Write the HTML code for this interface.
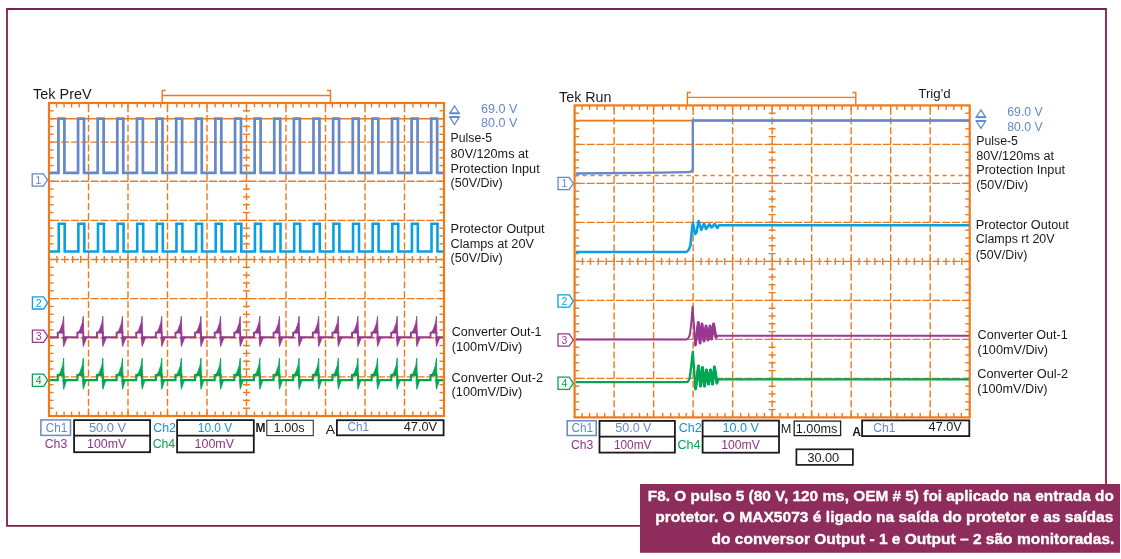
<!DOCTYPE html>
<html><head><meta charset="utf-8"><title>F8 - Pulse 5 oscilloscope captures</title>
<style>
html,body{margin:0;padding:0;background:#fff;}
body{width:1121px;height:559px;overflow:hidden;}
svg{display:block;font-family:'Liberation Sans', Arial, Helvetica, sans-serif;}
</style></head><body>
<svg width="1121" height="559" viewBox="0 0 1121 559">
<rect width="1121" height="559" fill="#fff"/>
<path d="M640,525.9 H7 V9 H1106 V484" stroke="#7D1F50" stroke-width="1.8" fill="none" stroke-linejoin="miter"/>
<rect x="640" y="484" width="480" height="68.8" stroke="none" stroke-width="0" fill="#8E2C5C"/>
<g stroke="#fff" stroke-width="0.35">
<text x="647.8" y="500.8" font-size="15.4" fill="#ffffff" textLength="466" lengthAdjust="spacingAndGlyphs" font-weight="bold">F8. O pulso 5 (80 V, 120 ms, OEM # 5) foi aplicado na entrada do</text>
<text x="655.2" y="522.3" font-size="15.4" fill="#ffffff" textLength="458.2" lengthAdjust="spacingAndGlyphs" font-weight="bold">protetor. O MAX5073 é ligado na saída do protetor e as saídas</text>
<text x="711.6" y="544" font-size="15.4" fill="#ffffff" textLength="402.8" lengthAdjust="spacingAndGlyphs" font-weight="bold">do conversor Output - 1 e Output – 2 são monitoradas.</text>
</g>
<text x="32.9" y="98.6" font-size="14.5" fill="#1a1a1a" textLength="58.8" lengthAdjust="spacingAndGlyphs">Tek PreV</text>
<path d="M165.7,90.5 H162.2 V103 M162.2,95.5 V95.5 M162.2,95.5 H330.5 V103" stroke="#EF7A1C" stroke-width="1.4" fill="none" stroke-linejoin="miter"/>
<path d="M327,90.5 H330.5 V95.5" stroke="#EF7A1C" stroke-width="1.4" fill="none" stroke-linejoin="miter"/>
<line x1="88.5" y1="103" x2="88.5" y2="416" stroke="#EF7A1C" stroke-width="1.4" stroke-dasharray="7.000,2.781" stroke-dashoffset="7.48"/>
<line x1="128" y1="103" x2="128" y2="416" stroke="#EF7A1C" stroke-width="1.4" stroke-dasharray="7.000,2.781" stroke-dashoffset="7.48"/>
<line x1="167.5" y1="103" x2="167.5" y2="416" stroke="#EF7A1C" stroke-width="1.4" stroke-dasharray="7.000,2.781" stroke-dashoffset="7.48"/>
<line x1="207" y1="103" x2="207" y2="416" stroke="#EF7A1C" stroke-width="1.4" stroke-dasharray="7.000,2.781" stroke-dashoffset="7.48"/>
<line x1="246.5" y1="103" x2="246.5" y2="416" stroke="#EF7A1C" stroke-width="1.4" stroke-dasharray="7.000,2.781" stroke-dashoffset="7.48"/>
<line x1="286" y1="103" x2="286" y2="416" stroke="#EF7A1C" stroke-width="1.4" stroke-dasharray="7.000,2.781" stroke-dashoffset="7.48"/>
<line x1="325.5" y1="103" x2="325.5" y2="416" stroke="#EF7A1C" stroke-width="1.4" stroke-dasharray="7.000,2.781" stroke-dashoffset="7.48"/>
<line x1="365" y1="103" x2="365" y2="416" stroke="#EF7A1C" stroke-width="1.4" stroke-dasharray="7.000,2.781" stroke-dashoffset="7.48"/>
<line x1="404.5" y1="103" x2="404.5" y2="416" stroke="#EF7A1C" stroke-width="1.4" stroke-dasharray="7.000,2.781" stroke-dashoffset="7.48"/>
<line x1="49" y1="142.12" x2="444" y2="142.12" stroke="#EF7A1C" stroke-width="1.4" stroke-dasharray="8.100,1.775" stroke-dashoffset="7.78"/>
<line x1="49" y1="181.25" x2="444" y2="181.25" stroke="#EF7A1C" stroke-width="1.4" stroke-dasharray="8.100,1.775" stroke-dashoffset="7.78"/>
<line x1="49" y1="220.38" x2="444" y2="220.38" stroke="#EF7A1C" stroke-width="1.4" stroke-dasharray="8.100,1.775" stroke-dashoffset="7.78"/>
<line x1="49" y1="259.5" x2="444" y2="259.5" stroke="#EF7A1C" stroke-width="1.4" stroke-dasharray="8.100,1.775" stroke-dashoffset="7.78"/>
<line x1="49" y1="298.62" x2="444" y2="298.62" stroke="#EF7A1C" stroke-width="1.4" stroke-dasharray="8.100,1.775" stroke-dashoffset="7.78"/>
<line x1="49" y1="337.75" x2="444" y2="337.75" stroke="#EF7A1C" stroke-width="1.4" stroke-dasharray="8.100,1.775" stroke-dashoffset="7.78"/>
<line x1="49" y1="376.88" x2="444" y2="376.88" stroke="#EF7A1C" stroke-width="1.4" stroke-dasharray="8.100,1.775" stroke-dashoffset="7.78"/>
<line x1="56.5" y1="103" x2="56.5" y2="107.5" stroke="#EF7A1C" stroke-width="1.4"/>
<line x1="56.5" y1="416" x2="56.5" y2="411.5" stroke="#EF7A1C" stroke-width="1.4"/>
<line x1="64.1" y1="103" x2="64.1" y2="107.5" stroke="#EF7A1C" stroke-width="1.4"/>
<line x1="64.1" y1="416" x2="64.1" y2="411.5" stroke="#EF7A1C" stroke-width="1.4"/>
<line x1="71.6" y1="103" x2="71.6" y2="107.5" stroke="#EF7A1C" stroke-width="1.4"/>
<line x1="71.6" y1="416" x2="71.6" y2="411.5" stroke="#EF7A1C" stroke-width="1.4"/>
<line x1="79.2" y1="103" x2="79.2" y2="107.5" stroke="#EF7A1C" stroke-width="1.4"/>
<line x1="79.2" y1="416" x2="79.2" y2="411.5" stroke="#EF7A1C" stroke-width="1.4"/>
<line x1="88.5" y1="103" x2="88.5" y2="107.5" stroke="#EF7A1C" stroke-width="1.4"/>
<line x1="88.5" y1="416" x2="88.5" y2="411.5" stroke="#EF7A1C" stroke-width="1.4"/>
<line x1="98.4" y1="103" x2="98.4" y2="107.5" stroke="#EF7A1C" stroke-width="1.4"/>
<line x1="98.4" y1="416" x2="98.4" y2="411.5" stroke="#EF7A1C" stroke-width="1.4"/>
<line x1="106.4" y1="103" x2="106.4" y2="107.5" stroke="#EF7A1C" stroke-width="1.4"/>
<line x1="106.4" y1="416" x2="106.4" y2="411.5" stroke="#EF7A1C" stroke-width="1.4"/>
<line x1="114" y1="103" x2="114" y2="107.5" stroke="#EF7A1C" stroke-width="1.4"/>
<line x1="114" y1="416" x2="114" y2="411.5" stroke="#EF7A1C" stroke-width="1.4"/>
<line x1="121.9" y1="103" x2="121.9" y2="107.5" stroke="#EF7A1C" stroke-width="1.4"/>
<line x1="121.9" y1="416" x2="121.9" y2="411.5" stroke="#EF7A1C" stroke-width="1.4"/>
<line x1="128" y1="103" x2="128" y2="107.5" stroke="#EF7A1C" stroke-width="1.4"/>
<line x1="128" y1="416" x2="128" y2="411.5" stroke="#EF7A1C" stroke-width="1.4"/>
<line x1="137.2" y1="103" x2="137.2" y2="107.5" stroke="#EF7A1C" stroke-width="1.4"/>
<line x1="137.2" y1="416" x2="137.2" y2="411.5" stroke="#EF7A1C" stroke-width="1.4"/>
<line x1="145.2" y1="103" x2="145.2" y2="107.5" stroke="#EF7A1C" stroke-width="1.4"/>
<line x1="145.2" y1="416" x2="145.2" y2="411.5" stroke="#EF7A1C" stroke-width="1.4"/>
<line x1="153.6" y1="103" x2="153.6" y2="107.5" stroke="#EF7A1C" stroke-width="1.4"/>
<line x1="153.6" y1="416" x2="153.6" y2="411.5" stroke="#EF7A1C" stroke-width="1.4"/>
<line x1="160.7" y1="103" x2="160.7" y2="107.5" stroke="#EF7A1C" stroke-width="1.4"/>
<line x1="160.7" y1="416" x2="160.7" y2="411.5" stroke="#EF7A1C" stroke-width="1.4"/>
<line x1="167.5" y1="103" x2="167.5" y2="107.5" stroke="#EF7A1C" stroke-width="1.4"/>
<line x1="167.5" y1="416" x2="167.5" y2="411.5" stroke="#EF7A1C" stroke-width="1.4"/>
<line x1="176.8" y1="103" x2="176.8" y2="107.5" stroke="#EF7A1C" stroke-width="1.4"/>
<line x1="176.8" y1="416" x2="176.8" y2="411.5" stroke="#EF7A1C" stroke-width="1.4"/>
<line x1="184.4" y1="103" x2="184.4" y2="107.5" stroke="#EF7A1C" stroke-width="1.4"/>
<line x1="184.4" y1="416" x2="184.4" y2="411.5" stroke="#EF7A1C" stroke-width="1.4"/>
<line x1="191.9" y1="103" x2="191.9" y2="107.5" stroke="#EF7A1C" stroke-width="1.4"/>
<line x1="191.9" y1="416" x2="191.9" y2="411.5" stroke="#EF7A1C" stroke-width="1.4"/>
<line x1="199.5" y1="103" x2="199.5" y2="107.5" stroke="#EF7A1C" stroke-width="1.4"/>
<line x1="199.5" y1="416" x2="199.5" y2="411.5" stroke="#EF7A1C" stroke-width="1.4"/>
<line x1="207" y1="103" x2="207" y2="107.5" stroke="#EF7A1C" stroke-width="1.4"/>
<line x1="207" y1="416" x2="207" y2="411.5" stroke="#EF7A1C" stroke-width="1.4"/>
<line x1="215.1" y1="103" x2="215.1" y2="107.5" stroke="#EF7A1C" stroke-width="1.4"/>
<line x1="215.1" y1="416" x2="215.1" y2="411.5" stroke="#EF7A1C" stroke-width="1.4"/>
<line x1="223.2" y1="103" x2="223.2" y2="107.5" stroke="#EF7A1C" stroke-width="1.4"/>
<line x1="223.2" y1="416" x2="223.2" y2="411.5" stroke="#EF7A1C" stroke-width="1.4"/>
<line x1="231.2" y1="103" x2="231.2" y2="107.5" stroke="#EF7A1C" stroke-width="1.4"/>
<line x1="231.2" y1="416" x2="231.2" y2="411.5" stroke="#EF7A1C" stroke-width="1.4"/>
<line x1="238.8" y1="103" x2="238.8" y2="107.5" stroke="#EF7A1C" stroke-width="1.4"/>
<line x1="238.8" y1="416" x2="238.8" y2="411.5" stroke="#EF7A1C" stroke-width="1.4"/>
<line x1="246.5" y1="103" x2="246.5" y2="107.5" stroke="#EF7A1C" stroke-width="1.4"/>
<line x1="246.5" y1="416" x2="246.5" y2="411.5" stroke="#EF7A1C" stroke-width="1.4"/>
<line x1="254.5" y1="103" x2="254.5" y2="107.5" stroke="#EF7A1C" stroke-width="1.4"/>
<line x1="254.5" y1="416" x2="254.5" y2="411.5" stroke="#EF7A1C" stroke-width="1.4"/>
<line x1="262.3" y1="103" x2="262.3" y2="107.5" stroke="#EF7A1C" stroke-width="1.4"/>
<line x1="262.3" y1="416" x2="262.3" y2="411.5" stroke="#EF7A1C" stroke-width="1.4"/>
<line x1="269.9" y1="103" x2="269.9" y2="107.5" stroke="#EF7A1C" stroke-width="1.4"/>
<line x1="269.9" y1="416" x2="269.9" y2="411.5" stroke="#EF7A1C" stroke-width="1.4"/>
<line x1="277.7" y1="103" x2="277.7" y2="107.5" stroke="#EF7A1C" stroke-width="1.4"/>
<line x1="277.7" y1="416" x2="277.7" y2="411.5" stroke="#EF7A1C" stroke-width="1.4"/>
<line x1="286" y1="103" x2="286" y2="107.5" stroke="#EF7A1C" stroke-width="1.4"/>
<line x1="286" y1="416" x2="286" y2="411.5" stroke="#EF7A1C" stroke-width="1.4"/>
<line x1="293.1" y1="103" x2="293.1" y2="107.5" stroke="#EF7A1C" stroke-width="1.4"/>
<line x1="293.1" y1="416" x2="293.1" y2="411.5" stroke="#EF7A1C" stroke-width="1.4"/>
<line x1="301.1" y1="103" x2="301.1" y2="107.5" stroke="#EF7A1C" stroke-width="1.4"/>
<line x1="301.1" y1="416" x2="301.1" y2="411.5" stroke="#EF7A1C" stroke-width="1.4"/>
<line x1="308.9" y1="103" x2="308.9" y2="107.5" stroke="#EF7A1C" stroke-width="1.4"/>
<line x1="308.9" y1="416" x2="308.9" y2="411.5" stroke="#EF7A1C" stroke-width="1.4"/>
<line x1="316.7" y1="103" x2="316.7" y2="107.5" stroke="#EF7A1C" stroke-width="1.4"/>
<line x1="316.7" y1="416" x2="316.7" y2="411.5" stroke="#EF7A1C" stroke-width="1.4"/>
<line x1="325.5" y1="103" x2="325.5" y2="107.5" stroke="#EF7A1C" stroke-width="1.4"/>
<line x1="325.5" y1="416" x2="325.5" y2="411.5" stroke="#EF7A1C" stroke-width="1.4"/>
<line x1="332.3" y1="103" x2="332.3" y2="107.5" stroke="#EF7A1C" stroke-width="1.4"/>
<line x1="332.3" y1="416" x2="332.3" y2="411.5" stroke="#EF7A1C" stroke-width="1.4"/>
<line x1="340.3" y1="103" x2="340.3" y2="107.5" stroke="#EF7A1C" stroke-width="1.4"/>
<line x1="340.3" y1="416" x2="340.3" y2="411.5" stroke="#EF7A1C" stroke-width="1.4"/>
<line x1="347.6" y1="103" x2="347.6" y2="107.5" stroke="#EF7A1C" stroke-width="1.4"/>
<line x1="347.6" y1="416" x2="347.6" y2="411.5" stroke="#EF7A1C" stroke-width="1.4"/>
<line x1="355.4" y1="103" x2="355.4" y2="107.5" stroke="#EF7A1C" stroke-width="1.4"/>
<line x1="355.4" y1="416" x2="355.4" y2="411.5" stroke="#EF7A1C" stroke-width="1.4"/>
<line x1="365" y1="103" x2="365" y2="107.5" stroke="#EF7A1C" stroke-width="1.4"/>
<line x1="365" y1="416" x2="365" y2="411.5" stroke="#EF7A1C" stroke-width="1.4"/>
<line x1="371.5" y1="103" x2="371.5" y2="107.5" stroke="#EF7A1C" stroke-width="1.4"/>
<line x1="371.5" y1="416" x2="371.5" y2="411.5" stroke="#EF7A1C" stroke-width="1.4"/>
<line x1="379.2" y1="103" x2="379.2" y2="107.5" stroke="#EF7A1C" stroke-width="1.4"/>
<line x1="379.2" y1="416" x2="379.2" y2="411.5" stroke="#EF7A1C" stroke-width="1.4"/>
<line x1="386.6" y1="103" x2="386.6" y2="107.5" stroke="#EF7A1C" stroke-width="1.4"/>
<line x1="386.6" y1="416" x2="386.6" y2="411.5" stroke="#EF7A1C" stroke-width="1.4"/>
<line x1="394.7" y1="103" x2="394.7" y2="107.5" stroke="#EF7A1C" stroke-width="1.4"/>
<line x1="394.7" y1="416" x2="394.7" y2="411.5" stroke="#EF7A1C" stroke-width="1.4"/>
<line x1="404.5" y1="103" x2="404.5" y2="107.5" stroke="#EF7A1C" stroke-width="1.4"/>
<line x1="404.5" y1="416" x2="404.5" y2="411.5" stroke="#EF7A1C" stroke-width="1.4"/>
<line x1="412.9" y1="103" x2="412.9" y2="107.5" stroke="#EF7A1C" stroke-width="1.4"/>
<line x1="412.9" y1="416" x2="412.9" y2="411.5" stroke="#EF7A1C" stroke-width="1.4"/>
<line x1="420.7" y1="103" x2="420.7" y2="107.5" stroke="#EF7A1C" stroke-width="1.4"/>
<line x1="420.7" y1="416" x2="420.7" y2="411.5" stroke="#EF7A1C" stroke-width="1.4"/>
<line x1="428.3" y1="103" x2="428.3" y2="107.5" stroke="#EF7A1C" stroke-width="1.4"/>
<line x1="428.3" y1="416" x2="428.3" y2="411.5" stroke="#EF7A1C" stroke-width="1.4"/>
<line x1="435.9" y1="103" x2="435.9" y2="107.5" stroke="#EF7A1C" stroke-width="1.4"/>
<line x1="435.9" y1="416" x2="435.9" y2="411.5" stroke="#EF7A1C" stroke-width="1.4"/>
<line x1="49" y1="110.83" x2="53.5" y2="110.83" stroke="#EF7A1C" stroke-width="1.4"/>
<line x1="444" y1="110.83" x2="439.5" y2="110.83" stroke="#EF7A1C" stroke-width="1.4"/>
<line x1="49" y1="118.65" x2="53.5" y2="118.65" stroke="#EF7A1C" stroke-width="1.4"/>
<line x1="444" y1="118.65" x2="439.5" y2="118.65" stroke="#EF7A1C" stroke-width="1.4"/>
<line x1="49" y1="126.47" x2="53.5" y2="126.47" stroke="#EF7A1C" stroke-width="1.4"/>
<line x1="444" y1="126.47" x2="439.5" y2="126.47" stroke="#EF7A1C" stroke-width="1.4"/>
<line x1="49" y1="134.3" x2="53.5" y2="134.3" stroke="#EF7A1C" stroke-width="1.4"/>
<line x1="444" y1="134.3" x2="439.5" y2="134.3" stroke="#EF7A1C" stroke-width="1.4"/>
<line x1="49" y1="142.12" x2="53.5" y2="142.12" stroke="#EF7A1C" stroke-width="1.4"/>
<line x1="444" y1="142.12" x2="439.5" y2="142.12" stroke="#EF7A1C" stroke-width="1.4"/>
<line x1="49" y1="149.95" x2="53.5" y2="149.95" stroke="#EF7A1C" stroke-width="1.4"/>
<line x1="444" y1="149.95" x2="439.5" y2="149.95" stroke="#EF7A1C" stroke-width="1.4"/>
<line x1="49" y1="157.78" x2="53.5" y2="157.78" stroke="#EF7A1C" stroke-width="1.4"/>
<line x1="444" y1="157.78" x2="439.5" y2="157.78" stroke="#EF7A1C" stroke-width="1.4"/>
<line x1="49" y1="165.6" x2="53.5" y2="165.6" stroke="#EF7A1C" stroke-width="1.4"/>
<line x1="444" y1="165.6" x2="439.5" y2="165.6" stroke="#EF7A1C" stroke-width="1.4"/>
<line x1="49" y1="173.43" x2="53.5" y2="173.43" stroke="#EF7A1C" stroke-width="1.4"/>
<line x1="444" y1="173.43" x2="439.5" y2="173.43" stroke="#EF7A1C" stroke-width="1.4"/>
<line x1="49" y1="181.25" x2="53.5" y2="181.25" stroke="#EF7A1C" stroke-width="1.4"/>
<line x1="444" y1="181.25" x2="439.5" y2="181.25" stroke="#EF7A1C" stroke-width="1.4"/>
<line x1="49" y1="189.07" x2="53.5" y2="189.07" stroke="#EF7A1C" stroke-width="1.4"/>
<line x1="444" y1="189.07" x2="439.5" y2="189.07" stroke="#EF7A1C" stroke-width="1.4"/>
<line x1="49" y1="196.9" x2="53.5" y2="196.9" stroke="#EF7A1C" stroke-width="1.4"/>
<line x1="444" y1="196.9" x2="439.5" y2="196.9" stroke="#EF7A1C" stroke-width="1.4"/>
<line x1="49" y1="204.72" x2="53.5" y2="204.72" stroke="#EF7A1C" stroke-width="1.4"/>
<line x1="444" y1="204.72" x2="439.5" y2="204.72" stroke="#EF7A1C" stroke-width="1.4"/>
<line x1="49" y1="212.55" x2="53.5" y2="212.55" stroke="#EF7A1C" stroke-width="1.4"/>
<line x1="444" y1="212.55" x2="439.5" y2="212.55" stroke="#EF7A1C" stroke-width="1.4"/>
<line x1="49" y1="220.38" x2="53.5" y2="220.38" stroke="#EF7A1C" stroke-width="1.4"/>
<line x1="444" y1="220.38" x2="439.5" y2="220.38" stroke="#EF7A1C" stroke-width="1.4"/>
<line x1="49" y1="228.2" x2="53.5" y2="228.2" stroke="#EF7A1C" stroke-width="1.4"/>
<line x1="444" y1="228.2" x2="439.5" y2="228.2" stroke="#EF7A1C" stroke-width="1.4"/>
<line x1="49" y1="236.03" x2="53.5" y2="236.03" stroke="#EF7A1C" stroke-width="1.4"/>
<line x1="444" y1="236.03" x2="439.5" y2="236.03" stroke="#EF7A1C" stroke-width="1.4"/>
<line x1="49" y1="243.85" x2="53.5" y2="243.85" stroke="#EF7A1C" stroke-width="1.4"/>
<line x1="444" y1="243.85" x2="439.5" y2="243.85" stroke="#EF7A1C" stroke-width="1.4"/>
<line x1="49" y1="251.68" x2="53.5" y2="251.68" stroke="#EF7A1C" stroke-width="1.4"/>
<line x1="444" y1="251.68" x2="439.5" y2="251.68" stroke="#EF7A1C" stroke-width="1.4"/>
<line x1="49" y1="259.5" x2="53.5" y2="259.5" stroke="#EF7A1C" stroke-width="1.4"/>
<line x1="444" y1="259.5" x2="439.5" y2="259.5" stroke="#EF7A1C" stroke-width="1.4"/>
<line x1="49" y1="267.32" x2="53.5" y2="267.32" stroke="#EF7A1C" stroke-width="1.4"/>
<line x1="444" y1="267.32" x2="439.5" y2="267.32" stroke="#EF7A1C" stroke-width="1.4"/>
<line x1="49" y1="275.15" x2="53.5" y2="275.15" stroke="#EF7A1C" stroke-width="1.4"/>
<line x1="444" y1="275.15" x2="439.5" y2="275.15" stroke="#EF7A1C" stroke-width="1.4"/>
<line x1="49" y1="282.98" x2="53.5" y2="282.98" stroke="#EF7A1C" stroke-width="1.4"/>
<line x1="444" y1="282.98" x2="439.5" y2="282.98" stroke="#EF7A1C" stroke-width="1.4"/>
<line x1="49" y1="290.8" x2="53.5" y2="290.8" stroke="#EF7A1C" stroke-width="1.4"/>
<line x1="444" y1="290.8" x2="439.5" y2="290.8" stroke="#EF7A1C" stroke-width="1.4"/>
<line x1="49" y1="298.62" x2="53.5" y2="298.62" stroke="#EF7A1C" stroke-width="1.4"/>
<line x1="444" y1="298.62" x2="439.5" y2="298.62" stroke="#EF7A1C" stroke-width="1.4"/>
<line x1="49" y1="306.45" x2="53.5" y2="306.45" stroke="#EF7A1C" stroke-width="1.4"/>
<line x1="444" y1="306.45" x2="439.5" y2="306.45" stroke="#EF7A1C" stroke-width="1.4"/>
<line x1="49" y1="314.27" x2="53.5" y2="314.27" stroke="#EF7A1C" stroke-width="1.4"/>
<line x1="444" y1="314.27" x2="439.5" y2="314.27" stroke="#EF7A1C" stroke-width="1.4"/>
<line x1="49" y1="322.1" x2="53.5" y2="322.1" stroke="#EF7A1C" stroke-width="1.4"/>
<line x1="444" y1="322.1" x2="439.5" y2="322.1" stroke="#EF7A1C" stroke-width="1.4"/>
<line x1="49" y1="329.93" x2="53.5" y2="329.93" stroke="#EF7A1C" stroke-width="1.4"/>
<line x1="444" y1="329.93" x2="439.5" y2="329.93" stroke="#EF7A1C" stroke-width="1.4"/>
<line x1="49" y1="337.75" x2="53.5" y2="337.75" stroke="#EF7A1C" stroke-width="1.4"/>
<line x1="444" y1="337.75" x2="439.5" y2="337.75" stroke="#EF7A1C" stroke-width="1.4"/>
<line x1="49" y1="345.57" x2="53.5" y2="345.57" stroke="#EF7A1C" stroke-width="1.4"/>
<line x1="444" y1="345.57" x2="439.5" y2="345.57" stroke="#EF7A1C" stroke-width="1.4"/>
<line x1="49" y1="353.4" x2="53.5" y2="353.4" stroke="#EF7A1C" stroke-width="1.4"/>
<line x1="444" y1="353.4" x2="439.5" y2="353.4" stroke="#EF7A1C" stroke-width="1.4"/>
<line x1="49" y1="361.23" x2="53.5" y2="361.23" stroke="#EF7A1C" stroke-width="1.4"/>
<line x1="444" y1="361.23" x2="439.5" y2="361.23" stroke="#EF7A1C" stroke-width="1.4"/>
<line x1="49" y1="369.05" x2="53.5" y2="369.05" stroke="#EF7A1C" stroke-width="1.4"/>
<line x1="444" y1="369.05" x2="439.5" y2="369.05" stroke="#EF7A1C" stroke-width="1.4"/>
<line x1="49" y1="376.88" x2="53.5" y2="376.88" stroke="#EF7A1C" stroke-width="1.4"/>
<line x1="444" y1="376.88" x2="439.5" y2="376.88" stroke="#EF7A1C" stroke-width="1.4"/>
<line x1="49" y1="384.7" x2="53.5" y2="384.7" stroke="#EF7A1C" stroke-width="1.4"/>
<line x1="444" y1="384.7" x2="439.5" y2="384.7" stroke="#EF7A1C" stroke-width="1.4"/>
<line x1="49" y1="392.52" x2="53.5" y2="392.52" stroke="#EF7A1C" stroke-width="1.4"/>
<line x1="444" y1="392.52" x2="439.5" y2="392.52" stroke="#EF7A1C" stroke-width="1.4"/>
<line x1="49" y1="400.35" x2="53.5" y2="400.35" stroke="#EF7A1C" stroke-width="1.4"/>
<line x1="444" y1="400.35" x2="439.5" y2="400.35" stroke="#EF7A1C" stroke-width="1.4"/>
<line x1="49" y1="408.18" x2="53.5" y2="408.18" stroke="#EF7A1C" stroke-width="1.4"/>
<line x1="444" y1="408.18" x2="439.5" y2="408.18" stroke="#EF7A1C" stroke-width="1.4"/>
<line x1="56.9" y1="256" x2="56.9" y2="263" stroke="#EF7A1C" stroke-width="1.4"/>
<line x1="64.8" y1="256" x2="64.8" y2="263" stroke="#EF7A1C" stroke-width="1.4"/>
<line x1="72.7" y1="256" x2="72.7" y2="263" stroke="#EF7A1C" stroke-width="1.4"/>
<line x1="80.6" y1="256" x2="80.6" y2="263" stroke="#EF7A1C" stroke-width="1.4"/>
<line x1="88.5" y1="256" x2="88.5" y2="263" stroke="#EF7A1C" stroke-width="1.4"/>
<line x1="96.4" y1="256" x2="96.4" y2="263" stroke="#EF7A1C" stroke-width="1.4"/>
<line x1="104.3" y1="256" x2="104.3" y2="263" stroke="#EF7A1C" stroke-width="1.4"/>
<line x1="112.2" y1="256" x2="112.2" y2="263" stroke="#EF7A1C" stroke-width="1.4"/>
<line x1="120.1" y1="256" x2="120.1" y2="263" stroke="#EF7A1C" stroke-width="1.4"/>
<line x1="128" y1="256" x2="128" y2="263" stroke="#EF7A1C" stroke-width="1.4"/>
<line x1="135.9" y1="256" x2="135.9" y2="263" stroke="#EF7A1C" stroke-width="1.4"/>
<line x1="143.8" y1="256" x2="143.8" y2="263" stroke="#EF7A1C" stroke-width="1.4"/>
<line x1="151.7" y1="256" x2="151.7" y2="263" stroke="#EF7A1C" stroke-width="1.4"/>
<line x1="159.6" y1="256" x2="159.6" y2="263" stroke="#EF7A1C" stroke-width="1.4"/>
<line x1="167.5" y1="256" x2="167.5" y2="263" stroke="#EF7A1C" stroke-width="1.4"/>
<line x1="175.4" y1="256" x2="175.4" y2="263" stroke="#EF7A1C" stroke-width="1.4"/>
<line x1="183.3" y1="256" x2="183.3" y2="263" stroke="#EF7A1C" stroke-width="1.4"/>
<line x1="191.2" y1="256" x2="191.2" y2="263" stroke="#EF7A1C" stroke-width="1.4"/>
<line x1="199.1" y1="256" x2="199.1" y2="263" stroke="#EF7A1C" stroke-width="1.4"/>
<line x1="207" y1="256" x2="207" y2="263" stroke="#EF7A1C" stroke-width="1.4"/>
<line x1="214.9" y1="256" x2="214.9" y2="263" stroke="#EF7A1C" stroke-width="1.4"/>
<line x1="222.8" y1="256" x2="222.8" y2="263" stroke="#EF7A1C" stroke-width="1.4"/>
<line x1="230.7" y1="256" x2="230.7" y2="263" stroke="#EF7A1C" stroke-width="1.4"/>
<line x1="238.6" y1="256" x2="238.6" y2="263" stroke="#EF7A1C" stroke-width="1.4"/>
<line x1="246.5" y1="256" x2="246.5" y2="263" stroke="#EF7A1C" stroke-width="1.4"/>
<line x1="254.4" y1="256" x2="254.4" y2="263" stroke="#EF7A1C" stroke-width="1.4"/>
<line x1="262.3" y1="256" x2="262.3" y2="263" stroke="#EF7A1C" stroke-width="1.4"/>
<line x1="270.2" y1="256" x2="270.2" y2="263" stroke="#EF7A1C" stroke-width="1.4"/>
<line x1="278.1" y1="256" x2="278.1" y2="263" stroke="#EF7A1C" stroke-width="1.4"/>
<line x1="286" y1="256" x2="286" y2="263" stroke="#EF7A1C" stroke-width="1.4"/>
<line x1="293.9" y1="256" x2="293.9" y2="263" stroke="#EF7A1C" stroke-width="1.4"/>
<line x1="301.8" y1="256" x2="301.8" y2="263" stroke="#EF7A1C" stroke-width="1.4"/>
<line x1="309.7" y1="256" x2="309.7" y2="263" stroke="#EF7A1C" stroke-width="1.4"/>
<line x1="317.6" y1="256" x2="317.6" y2="263" stroke="#EF7A1C" stroke-width="1.4"/>
<line x1="325.5" y1="256" x2="325.5" y2="263" stroke="#EF7A1C" stroke-width="1.4"/>
<line x1="333.4" y1="256" x2="333.4" y2="263" stroke="#EF7A1C" stroke-width="1.4"/>
<line x1="341.3" y1="256" x2="341.3" y2="263" stroke="#EF7A1C" stroke-width="1.4"/>
<line x1="349.2" y1="256" x2="349.2" y2="263" stroke="#EF7A1C" stroke-width="1.4"/>
<line x1="357.1" y1="256" x2="357.1" y2="263" stroke="#EF7A1C" stroke-width="1.4"/>
<line x1="365" y1="256" x2="365" y2="263" stroke="#EF7A1C" stroke-width="1.4"/>
<line x1="372.9" y1="256" x2="372.9" y2="263" stroke="#EF7A1C" stroke-width="1.4"/>
<line x1="380.8" y1="256" x2="380.8" y2="263" stroke="#EF7A1C" stroke-width="1.4"/>
<line x1="388.7" y1="256" x2="388.7" y2="263" stroke="#EF7A1C" stroke-width="1.4"/>
<line x1="396.6" y1="256" x2="396.6" y2="263" stroke="#EF7A1C" stroke-width="1.4"/>
<line x1="404.5" y1="256" x2="404.5" y2="263" stroke="#EF7A1C" stroke-width="1.4"/>
<line x1="412.4" y1="256" x2="412.4" y2="263" stroke="#EF7A1C" stroke-width="1.4"/>
<line x1="420.3" y1="256" x2="420.3" y2="263" stroke="#EF7A1C" stroke-width="1.4"/>
<line x1="428.2" y1="256" x2="428.2" y2="263" stroke="#EF7A1C" stroke-width="1.4"/>
<line x1="436.1" y1="256" x2="436.1" y2="263" stroke="#EF7A1C" stroke-width="1.4"/>
<line x1="243" y1="110.83" x2="250" y2="110.83" stroke="#EF7A1C" stroke-width="1.4"/>
<line x1="243" y1="118.65" x2="250" y2="118.65" stroke="#EF7A1C" stroke-width="1.4"/>
<line x1="243" y1="126.47" x2="250" y2="126.47" stroke="#EF7A1C" stroke-width="1.4"/>
<line x1="243" y1="134.3" x2="250" y2="134.3" stroke="#EF7A1C" stroke-width="1.4"/>
<line x1="243" y1="142.12" x2="250" y2="142.12" stroke="#EF7A1C" stroke-width="1.4"/>
<line x1="243" y1="149.95" x2="250" y2="149.95" stroke="#EF7A1C" stroke-width="1.4"/>
<line x1="243" y1="157.78" x2="250" y2="157.78" stroke="#EF7A1C" stroke-width="1.4"/>
<line x1="243" y1="165.6" x2="250" y2="165.6" stroke="#EF7A1C" stroke-width="1.4"/>
<line x1="243" y1="173.43" x2="250" y2="173.43" stroke="#EF7A1C" stroke-width="1.4"/>
<line x1="243" y1="181.25" x2="250" y2="181.25" stroke="#EF7A1C" stroke-width="1.4"/>
<line x1="243" y1="189.07" x2="250" y2="189.07" stroke="#EF7A1C" stroke-width="1.4"/>
<line x1="243" y1="196.9" x2="250" y2="196.9" stroke="#EF7A1C" stroke-width="1.4"/>
<line x1="243" y1="204.72" x2="250" y2="204.72" stroke="#EF7A1C" stroke-width="1.4"/>
<line x1="243" y1="212.55" x2="250" y2="212.55" stroke="#EF7A1C" stroke-width="1.4"/>
<line x1="243" y1="220.38" x2="250" y2="220.38" stroke="#EF7A1C" stroke-width="1.4"/>
<line x1="243" y1="228.2" x2="250" y2="228.2" stroke="#EF7A1C" stroke-width="1.4"/>
<line x1="243" y1="236.03" x2="250" y2="236.03" stroke="#EF7A1C" stroke-width="1.4"/>
<line x1="243" y1="243.85" x2="250" y2="243.85" stroke="#EF7A1C" stroke-width="1.4"/>
<line x1="243" y1="251.68" x2="250" y2="251.68" stroke="#EF7A1C" stroke-width="1.4"/>
<line x1="243" y1="259.5" x2="250" y2="259.5" stroke="#EF7A1C" stroke-width="1.4"/>
<line x1="243" y1="267.32" x2="250" y2="267.32" stroke="#EF7A1C" stroke-width="1.4"/>
<line x1="243" y1="275.15" x2="250" y2="275.15" stroke="#EF7A1C" stroke-width="1.4"/>
<line x1="243" y1="282.98" x2="250" y2="282.98" stroke="#EF7A1C" stroke-width="1.4"/>
<line x1="243" y1="290.8" x2="250" y2="290.8" stroke="#EF7A1C" stroke-width="1.4"/>
<line x1="243" y1="298.62" x2="250" y2="298.62" stroke="#EF7A1C" stroke-width="1.4"/>
<line x1="243" y1="306.45" x2="250" y2="306.45" stroke="#EF7A1C" stroke-width="1.4"/>
<line x1="243" y1="314.27" x2="250" y2="314.27" stroke="#EF7A1C" stroke-width="1.4"/>
<line x1="243" y1="322.1" x2="250" y2="322.1" stroke="#EF7A1C" stroke-width="1.4"/>
<line x1="243" y1="329.93" x2="250" y2="329.93" stroke="#EF7A1C" stroke-width="1.4"/>
<line x1="243" y1="337.75" x2="250" y2="337.75" stroke="#EF7A1C" stroke-width="1.4"/>
<line x1="243" y1="345.57" x2="250" y2="345.57" stroke="#EF7A1C" stroke-width="1.4"/>
<line x1="243" y1="353.4" x2="250" y2="353.4" stroke="#EF7A1C" stroke-width="1.4"/>
<line x1="243" y1="361.23" x2="250" y2="361.23" stroke="#EF7A1C" stroke-width="1.4"/>
<line x1="243" y1="369.05" x2="250" y2="369.05" stroke="#EF7A1C" stroke-width="1.4"/>
<line x1="243" y1="376.88" x2="250" y2="376.88" stroke="#EF7A1C" stroke-width="1.4"/>
<line x1="243" y1="384.7" x2="250" y2="384.7" stroke="#EF7A1C" stroke-width="1.4"/>
<line x1="243" y1="392.52" x2="250" y2="392.52" stroke="#EF7A1C" stroke-width="1.4"/>
<line x1="243" y1="400.35" x2="250" y2="400.35" stroke="#EF7A1C" stroke-width="1.4"/>
<line x1="243" y1="408.18" x2="250" y2="408.18" stroke="#EF7A1C" stroke-width="1.4"/>
<rect x="49" y="103" width="395" height="313" stroke="#EF7A1C" stroke-width="2.2" fill="none"/>
<line x1="49" y1="118.8" x2="444" y2="118.8" stroke="#EF7A1C" stroke-width="1.6"/>
<path d="M50,172.8 H58.45 V118.7 H64.4 V172.8 H78.07 V118.7 H84.02 V172.8 H97.69 V118.7 H103.64 V172.8 H117.31 V118.7 H123.26 V172.8 H136.93 V118.7 H142.88 V172.8 H156.55 V118.7 H162.5 V172.8 H176.17 V118.7 H182.12 V172.8 H195.79 V118.7 H201.74 V172.8 H215.41 V118.7 H221.36 V172.8 H235.03 V118.7 H240.98 V172.8 H254.65 V118.7 H260.6 V172.8 H274.27 V118.7 H280.22 V172.8 H293.89 V118.7 H299.84 V172.8 H313.51 V118.7 H319.46 V172.8 H333.13 V118.7 H339.08 V172.8 H352.75 V118.7 H358.7 V172.8 H372.37 V118.7 H378.32 V172.8 H391.99 V118.7 H397.94 V172.8 H411.61 V118.7 H417.56 V172.8 H431.23 V118.7 H437.18 V172.8 H443" stroke="#6488C8" stroke-width="2.7" fill="none"/>
<path d="M50,251.5 H58.75 V223.8 H64.7 V251.5 H78.37 V223.8 H84.32 V251.5 H97.99 V223.8 H103.94 V251.5 H117.61 V223.8 H123.56 V251.5 H137.23 V223.8 H143.18 V251.5 H156.85 V223.8 H162.8 V251.5 H176.47 V223.8 H182.42 V251.5 H196.09 V223.8 H202.04 V251.5 H215.71 V223.8 H221.66 V251.5 H235.33 V223.8 H241.28 V251.5 H254.95 V223.8 H260.9 V251.5 H274.57 V223.8 H280.52 V251.5 H294.19 V223.8 H300.14 V251.5 H313.81 V223.8 H319.76 V251.5 H333.43 V223.8 H339.38 V251.5 H353.05 V223.8 H359 V251.5 H372.67 V223.8 H378.62 V251.5 H392.29 V223.8 H398.24 V251.5 H411.91 V223.8 H417.86 V251.5 H431.53 V223.8 H437.48 V251.5 H443" stroke="#0AA0DF" stroke-width="2.6" fill="none"/>
<path d="M50,337.2 H57.75 V332.6 H63.65 V337.2 H77.37 V332.6 H83.27 V337.2 H96.99 V332.6 H102.89 V337.2 H116.61 V332.6 H122.51 V337.2 H136.23 V332.6 H142.13 V337.2 H155.85 V332.6 H161.75 V337.2 H175.47 V332.6 H181.37 V337.2 H195.09 V332.6 H200.99 V337.2 H214.71 V332.6 H220.61 V337.2 H234.33 V332.6 H240.23 V337.2 H253.95 V332.6 H259.85 V337.2 H273.57 V332.6 H279.47 V337.2 H293.19 V332.6 H299.09 V337.2 H312.81 V332.6 H318.71 V337.2 H332.43 V332.6 H338.33 V337.2 H352.05 V332.6 H357.95 V337.2 H371.67 V332.6 H377.57 V337.2 H391.29 V332.6 H397.19 V337.2 H410.91 V332.6 H416.81 V337.2 H430.53 V332.6 H436.43 V337.2 H443" stroke="#973893" stroke-width="1.9" fill="none"/>
<path d="M58.35,332.6 L60.35,329.6 L62.65,323.1 L63.65,316.3 L64.05,332.6 Z M62.85,337.2 L63.65,346.5 L67.25,337.2 Z M77.97,332.6 L79.97,329.6 L82.27,323.1 L83.27,316.3 L83.67,332.6 Z M82.47,337.2 L83.27,346.5 L86.87,337.2 Z M97.59,332.6 L99.59,329.6 L101.89,323.1 L102.89,316.3 L103.29,332.6 Z M102.09,337.2 L102.89,346.5 L106.49,337.2 Z M117.21,332.6 L119.21,329.6 L121.51,323.1 L122.51,316.3 L122.91,332.6 Z M121.71,337.2 L122.51,346.5 L126.11,337.2 Z M136.83,332.6 L138.83,329.6 L141.13,323.1 L142.13,316.3 L142.53,332.6 Z M141.33,337.2 L142.13,346.5 L145.73,337.2 Z M156.45,332.6 L158.45,329.6 L160.75,323.1 L161.75,316.3 L162.15,332.6 Z M160.95,337.2 L161.75,346.5 L165.35,337.2 Z M176.07,332.6 L178.07,329.6 L180.37,323.1 L181.37,316.3 L181.77,332.6 Z M180.57,337.2 L181.37,346.5 L184.97,337.2 Z M195.69,332.6 L197.69,329.6 L199.99,323.1 L200.99,316.3 L201.39,332.6 Z M200.19,337.2 L200.99,346.5 L204.59,337.2 Z M215.31,332.6 L217.31,329.6 L219.61,323.1 L220.61,316.3 L221.01,332.6 Z M219.81,337.2 L220.61,346.5 L224.21,337.2 Z M234.93,332.6 L236.93,329.6 L239.23,323.1 L240.23,316.3 L240.63,332.6 Z M239.43,337.2 L240.23,346.5 L243.83,337.2 Z M254.55,332.6 L256.55,329.6 L258.85,323.1 L259.85,316.3 L260.25,332.6 Z M259.05,337.2 L259.85,346.5 L263.45,337.2 Z M274.17,332.6 L276.17,329.6 L278.47,323.1 L279.47,316.3 L279.87,332.6 Z M278.67,337.2 L279.47,346.5 L283.07,337.2 Z M293.79,332.6 L295.79,329.6 L298.09,323.1 L299.09,316.3 L299.49,332.6 Z M298.29,337.2 L299.09,346.5 L302.69,337.2 Z M313.41,332.6 L315.41,329.6 L317.71,323.1 L318.71,316.3 L319.11,332.6 Z M317.91,337.2 L318.71,346.5 L322.31,337.2 Z M333.03,332.6 L335.03,329.6 L337.33,323.1 L338.33,316.3 L338.73,332.6 Z M337.53,337.2 L338.33,346.5 L341.93,337.2 Z M352.65,332.6 L354.65,329.6 L356.95,323.1 L357.95,316.3 L358.35,332.6 Z M357.15,337.2 L357.95,346.5 L361.55,337.2 Z M372.27,332.6 L374.27,329.6 L376.57,323.1 L377.57,316.3 L377.97,332.6 Z M376.77,337.2 L377.57,346.5 L381.17,337.2 Z M391.89,332.6 L393.89,329.6 L396.19,323.1 L397.19,316.3 L397.59,332.6 Z M396.39,337.2 L397.19,346.5 L400.79,337.2 Z M411.51,332.6 L413.51,329.6 L415.81,323.1 L416.81,316.3 L417.21,332.6 Z M416.01,337.2 L416.81,346.5 L420.41,337.2 Z M431.13,332.6 L433.13,329.6 L435.43,323.1 L436.43,316.3 L436.83,332.6 Z M435.63,337.2 L436.43,346.5 L440.03,337.2 Z" fill="#973893" stroke="#973893" stroke-width="0.8" stroke-linejoin="round"/>
<path d="M50,380.1 H57.75 V375.1 H63.65 V380.1 H77.37 V375.1 H83.27 V380.1 H96.99 V375.1 H102.89 V380.1 H116.61 V375.1 H122.51 V380.1 H136.23 V375.1 H142.13 V380.1 H155.85 V375.1 H161.75 V380.1 H175.47 V375.1 H181.37 V380.1 H195.09 V375.1 H200.99 V380.1 H214.71 V375.1 H220.61 V380.1 H234.33 V375.1 H240.23 V380.1 H253.95 V375.1 H259.85 V380.1 H273.57 V375.1 H279.47 V380.1 H293.19 V375.1 H299.09 V380.1 H312.81 V375.1 H318.71 V380.1 H332.43 V375.1 H338.33 V380.1 H352.05 V375.1 H357.95 V380.1 H371.67 V375.1 H377.57 V380.1 H391.29 V375.1 H397.19 V380.1 H410.91 V375.1 H416.81 V380.1 H430.53 V375.1 H436.43 V380.1 H443" stroke="#00A651" stroke-width="2.1" fill="none"/>
<path d="M58.35,375.1 L60.35,372.1 L62.65,365.6 L63.65,358.1 L64.05,375.1 Z M62.85,380.1 L63.65,389.3 L66.65,380.1 Z M77.97,375.1 L79.97,372.1 L82.27,365.6 L83.27,358.1 L83.67,375.1 Z M82.47,380.1 L83.27,389.3 L86.27,380.1 Z M97.59,375.1 L99.59,372.1 L101.89,365.6 L102.89,358.1 L103.29,375.1 Z M102.09,380.1 L102.89,389.3 L105.89,380.1 Z M117.21,375.1 L119.21,372.1 L121.51,365.6 L122.51,358.1 L122.91,375.1 Z M121.71,380.1 L122.51,389.3 L125.51,380.1 Z M136.83,375.1 L138.83,372.1 L141.13,365.6 L142.13,358.1 L142.53,375.1 Z M141.33,380.1 L142.13,389.3 L145.13,380.1 Z M156.45,375.1 L158.45,372.1 L160.75,365.6 L161.75,358.1 L162.15,375.1 Z M160.95,380.1 L161.75,389.3 L164.75,380.1 Z M176.07,375.1 L178.07,372.1 L180.37,365.6 L181.37,358.1 L181.77,375.1 Z M180.57,380.1 L181.37,389.3 L184.37,380.1 Z M195.69,375.1 L197.69,372.1 L199.99,365.6 L200.99,358.1 L201.39,375.1 Z M200.19,380.1 L200.99,389.3 L203.99,380.1 Z M215.31,375.1 L217.31,372.1 L219.61,365.6 L220.61,358.1 L221.01,375.1 Z M219.81,380.1 L220.61,389.3 L223.61,380.1 Z M234.93,375.1 L236.93,372.1 L239.23,365.6 L240.23,358.1 L240.63,375.1 Z M239.43,380.1 L240.23,389.3 L243.23,380.1 Z M254.55,375.1 L256.55,372.1 L258.85,365.6 L259.85,358.1 L260.25,375.1 Z M259.05,380.1 L259.85,389.3 L262.85,380.1 Z M274.17,375.1 L276.17,372.1 L278.47,365.6 L279.47,358.1 L279.87,375.1 Z M278.67,380.1 L279.47,389.3 L282.47,380.1 Z M293.79,375.1 L295.79,372.1 L298.09,365.6 L299.09,358.1 L299.49,375.1 Z M298.29,380.1 L299.09,389.3 L302.09,380.1 Z M313.41,375.1 L315.41,372.1 L317.71,365.6 L318.71,358.1 L319.11,375.1 Z M317.91,380.1 L318.71,389.3 L321.71,380.1 Z M333.03,375.1 L335.03,372.1 L337.33,365.6 L338.33,358.1 L338.73,375.1 Z M337.53,380.1 L338.33,389.3 L341.33,380.1 Z M352.65,375.1 L354.65,372.1 L356.95,365.6 L357.95,358.1 L358.35,375.1 Z M357.15,380.1 L357.95,389.3 L360.95,380.1 Z M372.27,375.1 L374.27,372.1 L376.57,365.6 L377.57,358.1 L377.97,375.1 Z M376.77,380.1 L377.57,389.3 L380.57,380.1 Z M391.89,375.1 L393.89,372.1 L396.19,365.6 L397.19,358.1 L397.59,375.1 Z M396.39,380.1 L397.19,389.3 L400.19,380.1 Z M411.51,375.1 L413.51,372.1 L415.81,365.6 L416.81,358.1 L417.21,375.1 Z M416.01,380.1 L416.81,389.3 L419.81,380.1 Z M431.13,375.1 L433.13,372.1 L435.43,365.6 L436.43,358.1 L436.83,375.1 Z M435.63,380.1 L436.43,389.3 L439.43,380.1 Z" fill="#00A651" stroke="#00A651" stroke-width="0.8" stroke-linejoin="round"/>
<path d="M32.2,173.9 H43.4 L47.5,180 L43.4,186.1 H32.2 Z" stroke="#6488C8" stroke-width="1.3" fill="none" stroke-linejoin="miter"/>
<text x="38.5" y="183.7" font-size="10.5" fill="#6488C8" text-anchor="middle">1</text>
<path d="M32.4,296.8 H43.6 L47.7,302.9 L43.6,309 H32.4 Z" stroke="#0AA0DF" stroke-width="1.3" fill="none" stroke-linejoin="miter"/>
<text x="38.7" y="306.6" font-size="10.5" fill="#0AA0DF" text-anchor="middle">2</text>
<path d="M32.4,330.1 H43.6 L47.7,336.2 L43.6,342.3 H32.4 Z" stroke="#973893" stroke-width="1.3" fill="none" stroke-linejoin="miter"/>
<text x="38.7" y="339.9" font-size="10.5" fill="#973893" text-anchor="middle">3</text>
<path d="M32.4,374.1 H43.6 L47.7,380.2 L43.6,386.3 H32.4 Z" stroke="#00A651" stroke-width="1.3" fill="none" stroke-linejoin="miter"/>
<text x="38.7" y="383.9" font-size="10.5" fill="#00A651" text-anchor="middle">4</text>
<path d="M449.8,113.3 L454.5,105.9 L459.2,113.3 Z" stroke="#6488C8" stroke-width="1.25" fill="none" stroke-linejoin="miter"/>
<line x1="449.4" y1="113.3" x2="459.6" y2="113.3" stroke="#6488C8" stroke-width="1.9"/>
<path d="M449.8,117.1 L454.5,124.5 L459.2,117.1 Z" stroke="#6488C8" stroke-width="1.25" fill="none" stroke-linejoin="miter"/>
<line x1="449.4" y1="117.1" x2="459.6" y2="117.1" stroke="#6488C8" stroke-width="1.9"/>
<text x="481.1" y="112.5" font-size="12.5" fill="#6488C8" textLength="36.4" lengthAdjust="spacingAndGlyphs">69.0 V</text>
<text x="481.1" y="127.3" font-size="12.5" fill="#6488C8" textLength="36.4" lengthAdjust="spacingAndGlyphs">80.0 V</text>
<text x="450.6" y="142.4" font-size="12.5" fill="#1a1a1a" textLength="41.5" lengthAdjust="spacingAndGlyphs">Pulse-5</text>
<text x="450.6" y="157.5" font-size="12.5" fill="#1a1a1a" textLength="77.9" lengthAdjust="spacingAndGlyphs">80V/120ms at</text>
<text x="450.6" y="172.6" font-size="12.5" fill="#1a1a1a" textLength="89.1" lengthAdjust="spacingAndGlyphs">Protection Input</text>
<text x="450.6" y="186.5" font-size="12.5" fill="#1a1a1a" textLength="52.1" lengthAdjust="spacingAndGlyphs">(50V/Div)</text>
<text x="450.6" y="233.3" font-size="12.5" fill="#1a1a1a" textLength="94" lengthAdjust="spacingAndGlyphs">Protector Output</text>
<text x="450.6" y="247.8" font-size="12.5" fill="#1a1a1a" textLength="83.4" lengthAdjust="spacingAndGlyphs">Clamps at 20V</text>
<text x="450.6" y="262" font-size="12.5" fill="#1a1a1a" textLength="52.1" lengthAdjust="spacingAndGlyphs">(50V/Div)</text>
<text x="451.8" y="336.3" font-size="12.5" fill="#1a1a1a" textLength="89.8" lengthAdjust="spacingAndGlyphs">Converter Out-1</text>
<text x="451.8" y="351" font-size="12.5" fill="#1a1a1a" textLength="70.4" lengthAdjust="spacingAndGlyphs">(100mV/Div)</text>
<text x="451.6" y="381.6" font-size="12.5" fill="#1a1a1a" textLength="91.4" lengthAdjust="spacingAndGlyphs">Converter Out-2</text>
<text x="451.6" y="395.8" font-size="12.5" fill="#1a1a1a" textLength="70.6" lengthAdjust="spacingAndGlyphs">(100mV/Div)</text>
<rect x="40.9" y="419.9" width="29.6" height="15.5" stroke="#6488C8" stroke-width="1.5" fill="none"/>
<text x="45.7" y="431.6" font-size="12" fill="#6488C8" textLength="21.6" lengthAdjust="spacingAndGlyphs">Ch1</text>
<rect x="74.1" y="420.1" width="76" height="32.1" stroke="#1a1a1a" stroke-width="1.8" fill="none"/>
<line x1="74.1" y1="435.6" x2="150.1" y2="435.6" stroke="#1a1a1a" stroke-width="1.8"/>
<text x="88.9" y="431.6" font-size="12" fill="#6488C8" textLength="37.3" lengthAdjust="spacingAndGlyphs">50.0 V</text>
<text x="44.7" y="448.3" font-size="12" fill="#923581" textLength="22.6" lengthAdjust="spacingAndGlyphs">Ch3</text>
<text x="87" y="448.3" font-size="12" fill="#923581" textLength="39.2" lengthAdjust="spacingAndGlyphs">100mV</text>
<text x="153.3" y="431.6" font-size="12" fill="#1393D5" textLength="22.7" lengthAdjust="spacingAndGlyphs">Ch2</text>
<text x="152.7" y="448.3" font-size="12" fill="#00A651" textLength="22.5" lengthAdjust="spacingAndGlyphs">Ch4</text>
<rect x="177.1" y="420.1" width="76.7" height="32.3" stroke="#1a1a1a" stroke-width="1.8" fill="none"/>
<line x1="177.1" y1="435.6" x2="253.8" y2="435.6" stroke="#1a1a1a" stroke-width="1.8"/>
<text x="197.8" y="431.6" font-size="12" fill="#1393D5" textLength="34.4" lengthAdjust="spacingAndGlyphs">10.0 V</text>
<text x="194.5" y="448.3" font-size="12" fill="#923581" textLength="39.6" lengthAdjust="spacingAndGlyphs">100mV</text>
<text x="255.4" y="432.2" font-size="12" fill="#1a1a1a" textLength="10" lengthAdjust="spacingAndGlyphs" font-weight="bold">M</text>
<rect x="266.8" y="420.3" width="46.5" height="15.3" stroke="#333" stroke-width="1.1" fill="none"/>
<text x="273.6" y="432" font-size="12" fill="#1a1a1a" textLength="31" lengthAdjust="spacingAndGlyphs">1.00s</text>
<text x="325.8" y="433.7" font-size="12.5" fill="#1a1a1a" textLength="9.3" lengthAdjust="spacingAndGlyphs">A</text>
<rect x="336.9" y="420.2" width="106.7" height="15.1" stroke="#1a1a1a" stroke-width="1.8" fill="none"/>
<text x="347.4" y="431.2" font-size="12" fill="#6488C8" textLength="21.6" lengthAdjust="spacingAndGlyphs">Ch1</text>
<text x="403.7" y="430.6" font-size="12" fill="#1a1a1a" textLength="33.4" lengthAdjust="spacingAndGlyphs">47.0V</text>
<text x="559.1" y="101.5" font-size="14.5" fill="#1a1a1a" textLength="52.3" lengthAdjust="spacingAndGlyphs">Tek Run</text>
<text x="918.3" y="98" font-size="13" fill="#1a1a1a" textLength="32.4" lengthAdjust="spacingAndGlyphs">Trig'd</text>
<path d="M690.9,92.5 H687.4 V105.4 M687.4,97.4 V97.4 M687.4,97.4 H855.8 V105.4" stroke="#EF7A1C" stroke-width="1.4" fill="none" stroke-linejoin="miter"/>
<path d="M852.3,92.5 H855.8 V97.4" stroke="#EF7A1C" stroke-width="1.4" fill="none" stroke-linejoin="miter"/>
<line x1="614.11" y1="105.4" x2="614.11" y2="417.4" stroke="#EF7A1C" stroke-width="1.4" stroke-dasharray="7.000,2.750" stroke-dashoffset="7.45"/>
<line x1="653.62" y1="105.4" x2="653.62" y2="417.4" stroke="#EF7A1C" stroke-width="1.4" stroke-dasharray="7.000,2.750" stroke-dashoffset="7.45"/>
<line x1="693.13" y1="105.4" x2="693.13" y2="417.4" stroke="#EF7A1C" stroke-width="1.4" stroke-dasharray="7.000,2.750" stroke-dashoffset="7.45"/>
<line x1="732.64" y1="105.4" x2="732.64" y2="417.4" stroke="#EF7A1C" stroke-width="1.4" stroke-dasharray="7.000,2.750" stroke-dashoffset="7.45"/>
<line x1="772.15" y1="105.4" x2="772.15" y2="417.4" stroke="#EF7A1C" stroke-width="1.4" stroke-dasharray="7.000,2.750" stroke-dashoffset="7.45"/>
<line x1="811.66" y1="105.4" x2="811.66" y2="417.4" stroke="#EF7A1C" stroke-width="1.4" stroke-dasharray="7.000,2.750" stroke-dashoffset="7.45"/>
<line x1="851.17" y1="105.4" x2="851.17" y2="417.4" stroke="#EF7A1C" stroke-width="1.4" stroke-dasharray="7.000,2.750" stroke-dashoffset="7.45"/>
<line x1="890.68" y1="105.4" x2="890.68" y2="417.4" stroke="#EF7A1C" stroke-width="1.4" stroke-dasharray="7.000,2.750" stroke-dashoffset="7.45"/>
<line x1="930.19" y1="105.4" x2="930.19" y2="417.4" stroke="#EF7A1C" stroke-width="1.4" stroke-dasharray="7.000,2.750" stroke-dashoffset="7.45"/>
<line x1="574.6" y1="144.4" x2="969.7" y2="144.4" stroke="#EF7A1C" stroke-width="1.4" stroke-dasharray="8.100,1.778" stroke-dashoffset="7.78"/>
<line x1="574.6" y1="183.4" x2="969.7" y2="183.4" stroke="#EF7A1C" stroke-width="1.4" stroke-dasharray="8.100,1.778" stroke-dashoffset="7.78"/>
<line x1="574.6" y1="222.4" x2="969.7" y2="222.4" stroke="#EF7A1C" stroke-width="1.4" stroke-dasharray="8.100,1.778" stroke-dashoffset="7.78"/>
<line x1="574.6" y1="261.4" x2="969.7" y2="261.4" stroke="#EF7A1C" stroke-width="1.4" stroke-dasharray="8.100,1.778" stroke-dashoffset="7.78"/>
<line x1="574.6" y1="300.4" x2="969.7" y2="300.4" stroke="#EF7A1C" stroke-width="1.4" stroke-dasharray="8.100,1.778" stroke-dashoffset="7.78"/>
<line x1="574.6" y1="339.4" x2="969.7" y2="339.4" stroke="#EF7A1C" stroke-width="1.4" stroke-dasharray="8.100,1.778" stroke-dashoffset="7.78"/>
<line x1="574.6" y1="378.4" x2="969.7" y2="378.4" stroke="#EF7A1C" stroke-width="1.4" stroke-dasharray="8.100,1.778" stroke-dashoffset="7.78"/>
<line x1="582" y1="105.4" x2="582" y2="109.9" stroke="#EF7A1C" stroke-width="1.4"/>
<line x1="582" y1="417.4" x2="582" y2="412.9" stroke="#EF7A1C" stroke-width="1.4"/>
<line x1="589.6" y1="105.4" x2="589.6" y2="109.9" stroke="#EF7A1C" stroke-width="1.4"/>
<line x1="589.6" y1="417.4" x2="589.6" y2="412.9" stroke="#EF7A1C" stroke-width="1.4"/>
<line x1="597.1" y1="105.4" x2="597.1" y2="109.9" stroke="#EF7A1C" stroke-width="1.4"/>
<line x1="597.1" y1="417.4" x2="597.1" y2="412.9" stroke="#EF7A1C" stroke-width="1.4"/>
<line x1="604.7" y1="105.4" x2="604.7" y2="109.9" stroke="#EF7A1C" stroke-width="1.4"/>
<line x1="604.7" y1="417.4" x2="604.7" y2="412.9" stroke="#EF7A1C" stroke-width="1.4"/>
<line x1="614.11" y1="105.4" x2="614.11" y2="109.9" stroke="#EF7A1C" stroke-width="1.4"/>
<line x1="614.11" y1="417.4" x2="614.11" y2="412.9" stroke="#EF7A1C" stroke-width="1.4"/>
<line x1="623.9" y1="105.4" x2="623.9" y2="109.9" stroke="#EF7A1C" stroke-width="1.4"/>
<line x1="623.9" y1="417.4" x2="623.9" y2="412.9" stroke="#EF7A1C" stroke-width="1.4"/>
<line x1="631.9" y1="105.4" x2="631.9" y2="109.9" stroke="#EF7A1C" stroke-width="1.4"/>
<line x1="631.9" y1="417.4" x2="631.9" y2="412.9" stroke="#EF7A1C" stroke-width="1.4"/>
<line x1="639.5" y1="105.4" x2="639.5" y2="109.9" stroke="#EF7A1C" stroke-width="1.4"/>
<line x1="639.5" y1="417.4" x2="639.5" y2="412.9" stroke="#EF7A1C" stroke-width="1.4"/>
<line x1="647.4" y1="105.4" x2="647.4" y2="109.9" stroke="#EF7A1C" stroke-width="1.4"/>
<line x1="647.4" y1="417.4" x2="647.4" y2="412.9" stroke="#EF7A1C" stroke-width="1.4"/>
<line x1="653.62" y1="105.4" x2="653.62" y2="109.9" stroke="#EF7A1C" stroke-width="1.4"/>
<line x1="653.62" y1="417.4" x2="653.62" y2="412.9" stroke="#EF7A1C" stroke-width="1.4"/>
<line x1="662.7" y1="105.4" x2="662.7" y2="109.9" stroke="#EF7A1C" stroke-width="1.4"/>
<line x1="662.7" y1="417.4" x2="662.7" y2="412.9" stroke="#EF7A1C" stroke-width="1.4"/>
<line x1="670.7" y1="105.4" x2="670.7" y2="109.9" stroke="#EF7A1C" stroke-width="1.4"/>
<line x1="670.7" y1="417.4" x2="670.7" y2="412.9" stroke="#EF7A1C" stroke-width="1.4"/>
<line x1="679.1" y1="105.4" x2="679.1" y2="109.9" stroke="#EF7A1C" stroke-width="1.4"/>
<line x1="679.1" y1="417.4" x2="679.1" y2="412.9" stroke="#EF7A1C" stroke-width="1.4"/>
<line x1="686.2" y1="105.4" x2="686.2" y2="109.9" stroke="#EF7A1C" stroke-width="1.4"/>
<line x1="686.2" y1="417.4" x2="686.2" y2="412.9" stroke="#EF7A1C" stroke-width="1.4"/>
<line x1="693.13" y1="105.4" x2="693.13" y2="109.9" stroke="#EF7A1C" stroke-width="1.4"/>
<line x1="693.13" y1="417.4" x2="693.13" y2="412.9" stroke="#EF7A1C" stroke-width="1.4"/>
<line x1="702.3" y1="105.4" x2="702.3" y2="109.9" stroke="#EF7A1C" stroke-width="1.4"/>
<line x1="702.3" y1="417.4" x2="702.3" y2="412.9" stroke="#EF7A1C" stroke-width="1.4"/>
<line x1="709.9" y1="105.4" x2="709.9" y2="109.9" stroke="#EF7A1C" stroke-width="1.4"/>
<line x1="709.9" y1="417.4" x2="709.9" y2="412.9" stroke="#EF7A1C" stroke-width="1.4"/>
<line x1="717.4" y1="105.4" x2="717.4" y2="109.9" stroke="#EF7A1C" stroke-width="1.4"/>
<line x1="717.4" y1="417.4" x2="717.4" y2="412.9" stroke="#EF7A1C" stroke-width="1.4"/>
<line x1="725" y1="105.4" x2="725" y2="109.9" stroke="#EF7A1C" stroke-width="1.4"/>
<line x1="725" y1="417.4" x2="725" y2="412.9" stroke="#EF7A1C" stroke-width="1.4"/>
<line x1="732.64" y1="105.4" x2="732.64" y2="109.9" stroke="#EF7A1C" stroke-width="1.4"/>
<line x1="732.64" y1="417.4" x2="732.64" y2="412.9" stroke="#EF7A1C" stroke-width="1.4"/>
<line x1="740.6" y1="105.4" x2="740.6" y2="109.9" stroke="#EF7A1C" stroke-width="1.4"/>
<line x1="740.6" y1="417.4" x2="740.6" y2="412.9" stroke="#EF7A1C" stroke-width="1.4"/>
<line x1="748.7" y1="105.4" x2="748.7" y2="109.9" stroke="#EF7A1C" stroke-width="1.4"/>
<line x1="748.7" y1="417.4" x2="748.7" y2="412.9" stroke="#EF7A1C" stroke-width="1.4"/>
<line x1="756.7" y1="105.4" x2="756.7" y2="109.9" stroke="#EF7A1C" stroke-width="1.4"/>
<line x1="756.7" y1="417.4" x2="756.7" y2="412.9" stroke="#EF7A1C" stroke-width="1.4"/>
<line x1="764.3" y1="105.4" x2="764.3" y2="109.9" stroke="#EF7A1C" stroke-width="1.4"/>
<line x1="764.3" y1="417.4" x2="764.3" y2="412.9" stroke="#EF7A1C" stroke-width="1.4"/>
<line x1="772.15" y1="105.4" x2="772.15" y2="109.9" stroke="#EF7A1C" stroke-width="1.4"/>
<line x1="772.15" y1="417.4" x2="772.15" y2="412.9" stroke="#EF7A1C" stroke-width="1.4"/>
<line x1="780" y1="105.4" x2="780" y2="109.9" stroke="#EF7A1C" stroke-width="1.4"/>
<line x1="780" y1="417.4" x2="780" y2="412.9" stroke="#EF7A1C" stroke-width="1.4"/>
<line x1="787.8" y1="105.4" x2="787.8" y2="109.9" stroke="#EF7A1C" stroke-width="1.4"/>
<line x1="787.8" y1="417.4" x2="787.8" y2="412.9" stroke="#EF7A1C" stroke-width="1.4"/>
<line x1="795.4" y1="105.4" x2="795.4" y2="109.9" stroke="#EF7A1C" stroke-width="1.4"/>
<line x1="795.4" y1="417.4" x2="795.4" y2="412.9" stroke="#EF7A1C" stroke-width="1.4"/>
<line x1="803.2" y1="105.4" x2="803.2" y2="109.9" stroke="#EF7A1C" stroke-width="1.4"/>
<line x1="803.2" y1="417.4" x2="803.2" y2="412.9" stroke="#EF7A1C" stroke-width="1.4"/>
<line x1="811.66" y1="105.4" x2="811.66" y2="109.9" stroke="#EF7A1C" stroke-width="1.4"/>
<line x1="811.66" y1="417.4" x2="811.66" y2="412.9" stroke="#EF7A1C" stroke-width="1.4"/>
<line x1="818.6" y1="105.4" x2="818.6" y2="109.9" stroke="#EF7A1C" stroke-width="1.4"/>
<line x1="818.6" y1="417.4" x2="818.6" y2="412.9" stroke="#EF7A1C" stroke-width="1.4"/>
<line x1="826.6" y1="105.4" x2="826.6" y2="109.9" stroke="#EF7A1C" stroke-width="1.4"/>
<line x1="826.6" y1="417.4" x2="826.6" y2="412.9" stroke="#EF7A1C" stroke-width="1.4"/>
<line x1="834.4" y1="105.4" x2="834.4" y2="109.9" stroke="#EF7A1C" stroke-width="1.4"/>
<line x1="834.4" y1="417.4" x2="834.4" y2="412.9" stroke="#EF7A1C" stroke-width="1.4"/>
<line x1="842.2" y1="105.4" x2="842.2" y2="109.9" stroke="#EF7A1C" stroke-width="1.4"/>
<line x1="842.2" y1="417.4" x2="842.2" y2="412.9" stroke="#EF7A1C" stroke-width="1.4"/>
<line x1="851.17" y1="105.4" x2="851.17" y2="109.9" stroke="#EF7A1C" stroke-width="1.4"/>
<line x1="851.17" y1="417.4" x2="851.17" y2="412.9" stroke="#EF7A1C" stroke-width="1.4"/>
<line x1="857.8" y1="105.4" x2="857.8" y2="109.9" stroke="#EF7A1C" stroke-width="1.4"/>
<line x1="857.8" y1="417.4" x2="857.8" y2="412.9" stroke="#EF7A1C" stroke-width="1.4"/>
<line x1="865.8" y1="105.4" x2="865.8" y2="109.9" stroke="#EF7A1C" stroke-width="1.4"/>
<line x1="865.8" y1="417.4" x2="865.8" y2="412.9" stroke="#EF7A1C" stroke-width="1.4"/>
<line x1="873.1" y1="105.4" x2="873.1" y2="109.9" stroke="#EF7A1C" stroke-width="1.4"/>
<line x1="873.1" y1="417.4" x2="873.1" y2="412.9" stroke="#EF7A1C" stroke-width="1.4"/>
<line x1="880.9" y1="105.4" x2="880.9" y2="109.9" stroke="#EF7A1C" stroke-width="1.4"/>
<line x1="880.9" y1="417.4" x2="880.9" y2="412.9" stroke="#EF7A1C" stroke-width="1.4"/>
<line x1="890.68" y1="105.4" x2="890.68" y2="109.9" stroke="#EF7A1C" stroke-width="1.4"/>
<line x1="890.68" y1="417.4" x2="890.68" y2="412.9" stroke="#EF7A1C" stroke-width="1.4"/>
<line x1="897" y1="105.4" x2="897" y2="109.9" stroke="#EF7A1C" stroke-width="1.4"/>
<line x1="897" y1="417.4" x2="897" y2="412.9" stroke="#EF7A1C" stroke-width="1.4"/>
<line x1="904.7" y1="105.4" x2="904.7" y2="109.9" stroke="#EF7A1C" stroke-width="1.4"/>
<line x1="904.7" y1="417.4" x2="904.7" y2="412.9" stroke="#EF7A1C" stroke-width="1.4"/>
<line x1="912.1" y1="105.4" x2="912.1" y2="109.9" stroke="#EF7A1C" stroke-width="1.4"/>
<line x1="912.1" y1="417.4" x2="912.1" y2="412.9" stroke="#EF7A1C" stroke-width="1.4"/>
<line x1="920.2" y1="105.4" x2="920.2" y2="109.9" stroke="#EF7A1C" stroke-width="1.4"/>
<line x1="920.2" y1="417.4" x2="920.2" y2="412.9" stroke="#EF7A1C" stroke-width="1.4"/>
<line x1="930.19" y1="105.4" x2="930.19" y2="109.9" stroke="#EF7A1C" stroke-width="1.4"/>
<line x1="930.19" y1="417.4" x2="930.19" y2="412.9" stroke="#EF7A1C" stroke-width="1.4"/>
<line x1="938.4" y1="105.4" x2="938.4" y2="109.9" stroke="#EF7A1C" stroke-width="1.4"/>
<line x1="938.4" y1="417.4" x2="938.4" y2="412.9" stroke="#EF7A1C" stroke-width="1.4"/>
<line x1="946.2" y1="105.4" x2="946.2" y2="109.9" stroke="#EF7A1C" stroke-width="1.4"/>
<line x1="946.2" y1="417.4" x2="946.2" y2="412.9" stroke="#EF7A1C" stroke-width="1.4"/>
<line x1="953.8" y1="105.4" x2="953.8" y2="109.9" stroke="#EF7A1C" stroke-width="1.4"/>
<line x1="953.8" y1="417.4" x2="953.8" y2="412.9" stroke="#EF7A1C" stroke-width="1.4"/>
<line x1="961.4" y1="105.4" x2="961.4" y2="109.9" stroke="#EF7A1C" stroke-width="1.4"/>
<line x1="961.4" y1="417.4" x2="961.4" y2="412.9" stroke="#EF7A1C" stroke-width="1.4"/>
<line x1="574.6" y1="113.2" x2="579.1" y2="113.2" stroke="#EF7A1C" stroke-width="1.4"/>
<line x1="969.7" y1="113.2" x2="965.2" y2="113.2" stroke="#EF7A1C" stroke-width="1.4"/>
<line x1="574.6" y1="121" x2="579.1" y2="121" stroke="#EF7A1C" stroke-width="1.4"/>
<line x1="969.7" y1="121" x2="965.2" y2="121" stroke="#EF7A1C" stroke-width="1.4"/>
<line x1="574.6" y1="128.8" x2="579.1" y2="128.8" stroke="#EF7A1C" stroke-width="1.4"/>
<line x1="969.7" y1="128.8" x2="965.2" y2="128.8" stroke="#EF7A1C" stroke-width="1.4"/>
<line x1="574.6" y1="136.6" x2="579.1" y2="136.6" stroke="#EF7A1C" stroke-width="1.4"/>
<line x1="969.7" y1="136.6" x2="965.2" y2="136.6" stroke="#EF7A1C" stroke-width="1.4"/>
<line x1="574.6" y1="144.4" x2="579.1" y2="144.4" stroke="#EF7A1C" stroke-width="1.4"/>
<line x1="969.7" y1="144.4" x2="965.2" y2="144.4" stroke="#EF7A1C" stroke-width="1.4"/>
<line x1="574.6" y1="152.2" x2="579.1" y2="152.2" stroke="#EF7A1C" stroke-width="1.4"/>
<line x1="969.7" y1="152.2" x2="965.2" y2="152.2" stroke="#EF7A1C" stroke-width="1.4"/>
<line x1="574.6" y1="160" x2="579.1" y2="160" stroke="#EF7A1C" stroke-width="1.4"/>
<line x1="969.7" y1="160" x2="965.2" y2="160" stroke="#EF7A1C" stroke-width="1.4"/>
<line x1="574.6" y1="167.8" x2="579.1" y2="167.8" stroke="#EF7A1C" stroke-width="1.4"/>
<line x1="969.7" y1="167.8" x2="965.2" y2="167.8" stroke="#EF7A1C" stroke-width="1.4"/>
<line x1="574.6" y1="175.6" x2="579.1" y2="175.6" stroke="#EF7A1C" stroke-width="1.4"/>
<line x1="969.7" y1="175.6" x2="965.2" y2="175.6" stroke="#EF7A1C" stroke-width="1.4"/>
<line x1="574.6" y1="183.4" x2="579.1" y2="183.4" stroke="#EF7A1C" stroke-width="1.4"/>
<line x1="969.7" y1="183.4" x2="965.2" y2="183.4" stroke="#EF7A1C" stroke-width="1.4"/>
<line x1="574.6" y1="191.2" x2="579.1" y2="191.2" stroke="#EF7A1C" stroke-width="1.4"/>
<line x1="969.7" y1="191.2" x2="965.2" y2="191.2" stroke="#EF7A1C" stroke-width="1.4"/>
<line x1="574.6" y1="199" x2="579.1" y2="199" stroke="#EF7A1C" stroke-width="1.4"/>
<line x1="969.7" y1="199" x2="965.2" y2="199" stroke="#EF7A1C" stroke-width="1.4"/>
<line x1="574.6" y1="206.8" x2="579.1" y2="206.8" stroke="#EF7A1C" stroke-width="1.4"/>
<line x1="969.7" y1="206.8" x2="965.2" y2="206.8" stroke="#EF7A1C" stroke-width="1.4"/>
<line x1="574.6" y1="214.6" x2="579.1" y2="214.6" stroke="#EF7A1C" stroke-width="1.4"/>
<line x1="969.7" y1="214.6" x2="965.2" y2="214.6" stroke="#EF7A1C" stroke-width="1.4"/>
<line x1="574.6" y1="222.4" x2="579.1" y2="222.4" stroke="#EF7A1C" stroke-width="1.4"/>
<line x1="969.7" y1="222.4" x2="965.2" y2="222.4" stroke="#EF7A1C" stroke-width="1.4"/>
<line x1="574.6" y1="230.2" x2="579.1" y2="230.2" stroke="#EF7A1C" stroke-width="1.4"/>
<line x1="969.7" y1="230.2" x2="965.2" y2="230.2" stroke="#EF7A1C" stroke-width="1.4"/>
<line x1="574.6" y1="238" x2="579.1" y2="238" stroke="#EF7A1C" stroke-width="1.4"/>
<line x1="969.7" y1="238" x2="965.2" y2="238" stroke="#EF7A1C" stroke-width="1.4"/>
<line x1="574.6" y1="245.8" x2="579.1" y2="245.8" stroke="#EF7A1C" stroke-width="1.4"/>
<line x1="969.7" y1="245.8" x2="965.2" y2="245.8" stroke="#EF7A1C" stroke-width="1.4"/>
<line x1="574.6" y1="253.6" x2="579.1" y2="253.6" stroke="#EF7A1C" stroke-width="1.4"/>
<line x1="969.7" y1="253.6" x2="965.2" y2="253.6" stroke="#EF7A1C" stroke-width="1.4"/>
<line x1="574.6" y1="261.4" x2="579.1" y2="261.4" stroke="#EF7A1C" stroke-width="1.4"/>
<line x1="969.7" y1="261.4" x2="965.2" y2="261.4" stroke="#EF7A1C" stroke-width="1.4"/>
<line x1="574.6" y1="269.2" x2="579.1" y2="269.2" stroke="#EF7A1C" stroke-width="1.4"/>
<line x1="969.7" y1="269.2" x2="965.2" y2="269.2" stroke="#EF7A1C" stroke-width="1.4"/>
<line x1="574.6" y1="277" x2="579.1" y2="277" stroke="#EF7A1C" stroke-width="1.4"/>
<line x1="969.7" y1="277" x2="965.2" y2="277" stroke="#EF7A1C" stroke-width="1.4"/>
<line x1="574.6" y1="284.8" x2="579.1" y2="284.8" stroke="#EF7A1C" stroke-width="1.4"/>
<line x1="969.7" y1="284.8" x2="965.2" y2="284.8" stroke="#EF7A1C" stroke-width="1.4"/>
<line x1="574.6" y1="292.6" x2="579.1" y2="292.6" stroke="#EF7A1C" stroke-width="1.4"/>
<line x1="969.7" y1="292.6" x2="965.2" y2="292.6" stroke="#EF7A1C" stroke-width="1.4"/>
<line x1="574.6" y1="300.4" x2="579.1" y2="300.4" stroke="#EF7A1C" stroke-width="1.4"/>
<line x1="969.7" y1="300.4" x2="965.2" y2="300.4" stroke="#EF7A1C" stroke-width="1.4"/>
<line x1="574.6" y1="308.2" x2="579.1" y2="308.2" stroke="#EF7A1C" stroke-width="1.4"/>
<line x1="969.7" y1="308.2" x2="965.2" y2="308.2" stroke="#EF7A1C" stroke-width="1.4"/>
<line x1="574.6" y1="316" x2="579.1" y2="316" stroke="#EF7A1C" stroke-width="1.4"/>
<line x1="969.7" y1="316" x2="965.2" y2="316" stroke="#EF7A1C" stroke-width="1.4"/>
<line x1="574.6" y1="323.8" x2="579.1" y2="323.8" stroke="#EF7A1C" stroke-width="1.4"/>
<line x1="969.7" y1="323.8" x2="965.2" y2="323.8" stroke="#EF7A1C" stroke-width="1.4"/>
<line x1="574.6" y1="331.6" x2="579.1" y2="331.6" stroke="#EF7A1C" stroke-width="1.4"/>
<line x1="969.7" y1="331.6" x2="965.2" y2="331.6" stroke="#EF7A1C" stroke-width="1.4"/>
<line x1="574.6" y1="339.4" x2="579.1" y2="339.4" stroke="#EF7A1C" stroke-width="1.4"/>
<line x1="969.7" y1="339.4" x2="965.2" y2="339.4" stroke="#EF7A1C" stroke-width="1.4"/>
<line x1="574.6" y1="347.2" x2="579.1" y2="347.2" stroke="#EF7A1C" stroke-width="1.4"/>
<line x1="969.7" y1="347.2" x2="965.2" y2="347.2" stroke="#EF7A1C" stroke-width="1.4"/>
<line x1="574.6" y1="355" x2="579.1" y2="355" stroke="#EF7A1C" stroke-width="1.4"/>
<line x1="969.7" y1="355" x2="965.2" y2="355" stroke="#EF7A1C" stroke-width="1.4"/>
<line x1="574.6" y1="362.8" x2="579.1" y2="362.8" stroke="#EF7A1C" stroke-width="1.4"/>
<line x1="969.7" y1="362.8" x2="965.2" y2="362.8" stroke="#EF7A1C" stroke-width="1.4"/>
<line x1="574.6" y1="370.6" x2="579.1" y2="370.6" stroke="#EF7A1C" stroke-width="1.4"/>
<line x1="969.7" y1="370.6" x2="965.2" y2="370.6" stroke="#EF7A1C" stroke-width="1.4"/>
<line x1="574.6" y1="378.4" x2="579.1" y2="378.4" stroke="#EF7A1C" stroke-width="1.4"/>
<line x1="969.7" y1="378.4" x2="965.2" y2="378.4" stroke="#EF7A1C" stroke-width="1.4"/>
<line x1="574.6" y1="386.2" x2="579.1" y2="386.2" stroke="#EF7A1C" stroke-width="1.4"/>
<line x1="969.7" y1="386.2" x2="965.2" y2="386.2" stroke="#EF7A1C" stroke-width="1.4"/>
<line x1="574.6" y1="394" x2="579.1" y2="394" stroke="#EF7A1C" stroke-width="1.4"/>
<line x1="969.7" y1="394" x2="965.2" y2="394" stroke="#EF7A1C" stroke-width="1.4"/>
<line x1="574.6" y1="401.8" x2="579.1" y2="401.8" stroke="#EF7A1C" stroke-width="1.4"/>
<line x1="969.7" y1="401.8" x2="965.2" y2="401.8" stroke="#EF7A1C" stroke-width="1.4"/>
<line x1="574.6" y1="409.6" x2="579.1" y2="409.6" stroke="#EF7A1C" stroke-width="1.4"/>
<line x1="969.7" y1="409.6" x2="965.2" y2="409.6" stroke="#EF7A1C" stroke-width="1.4"/>
<line x1="582.5" y1="257.9" x2="582.5" y2="264.9" stroke="#EF7A1C" stroke-width="1.4"/>
<line x1="590.4" y1="257.9" x2="590.4" y2="264.9" stroke="#EF7A1C" stroke-width="1.4"/>
<line x1="598.31" y1="257.9" x2="598.31" y2="264.9" stroke="#EF7A1C" stroke-width="1.4"/>
<line x1="606.21" y1="257.9" x2="606.21" y2="264.9" stroke="#EF7A1C" stroke-width="1.4"/>
<line x1="614.11" y1="257.9" x2="614.11" y2="264.9" stroke="#EF7A1C" stroke-width="1.4"/>
<line x1="622.01" y1="257.9" x2="622.01" y2="264.9" stroke="#EF7A1C" stroke-width="1.4"/>
<line x1="629.91" y1="257.9" x2="629.91" y2="264.9" stroke="#EF7A1C" stroke-width="1.4"/>
<line x1="637.82" y1="257.9" x2="637.82" y2="264.9" stroke="#EF7A1C" stroke-width="1.4"/>
<line x1="645.72" y1="257.9" x2="645.72" y2="264.9" stroke="#EF7A1C" stroke-width="1.4"/>
<line x1="653.62" y1="257.9" x2="653.62" y2="264.9" stroke="#EF7A1C" stroke-width="1.4"/>
<line x1="661.52" y1="257.9" x2="661.52" y2="264.9" stroke="#EF7A1C" stroke-width="1.4"/>
<line x1="669.42" y1="257.9" x2="669.42" y2="264.9" stroke="#EF7A1C" stroke-width="1.4"/>
<line x1="677.33" y1="257.9" x2="677.33" y2="264.9" stroke="#EF7A1C" stroke-width="1.4"/>
<line x1="685.23" y1="257.9" x2="685.23" y2="264.9" stroke="#EF7A1C" stroke-width="1.4"/>
<line x1="693.13" y1="257.9" x2="693.13" y2="264.9" stroke="#EF7A1C" stroke-width="1.4"/>
<line x1="701.03" y1="257.9" x2="701.03" y2="264.9" stroke="#EF7A1C" stroke-width="1.4"/>
<line x1="708.93" y1="257.9" x2="708.93" y2="264.9" stroke="#EF7A1C" stroke-width="1.4"/>
<line x1="716.84" y1="257.9" x2="716.84" y2="264.9" stroke="#EF7A1C" stroke-width="1.4"/>
<line x1="724.74" y1="257.9" x2="724.74" y2="264.9" stroke="#EF7A1C" stroke-width="1.4"/>
<line x1="732.64" y1="257.9" x2="732.64" y2="264.9" stroke="#EF7A1C" stroke-width="1.4"/>
<line x1="740.54" y1="257.9" x2="740.54" y2="264.9" stroke="#EF7A1C" stroke-width="1.4"/>
<line x1="748.44" y1="257.9" x2="748.44" y2="264.9" stroke="#EF7A1C" stroke-width="1.4"/>
<line x1="756.35" y1="257.9" x2="756.35" y2="264.9" stroke="#EF7A1C" stroke-width="1.4"/>
<line x1="764.25" y1="257.9" x2="764.25" y2="264.9" stroke="#EF7A1C" stroke-width="1.4"/>
<line x1="772.15" y1="257.9" x2="772.15" y2="264.9" stroke="#EF7A1C" stroke-width="1.4"/>
<line x1="780.05" y1="257.9" x2="780.05" y2="264.9" stroke="#EF7A1C" stroke-width="1.4"/>
<line x1="787.95" y1="257.9" x2="787.95" y2="264.9" stroke="#EF7A1C" stroke-width="1.4"/>
<line x1="795.86" y1="257.9" x2="795.86" y2="264.9" stroke="#EF7A1C" stroke-width="1.4"/>
<line x1="803.76" y1="257.9" x2="803.76" y2="264.9" stroke="#EF7A1C" stroke-width="1.4"/>
<line x1="811.66" y1="257.9" x2="811.66" y2="264.9" stroke="#EF7A1C" stroke-width="1.4"/>
<line x1="819.56" y1="257.9" x2="819.56" y2="264.9" stroke="#EF7A1C" stroke-width="1.4"/>
<line x1="827.46" y1="257.9" x2="827.46" y2="264.9" stroke="#EF7A1C" stroke-width="1.4"/>
<line x1="835.37" y1="257.9" x2="835.37" y2="264.9" stroke="#EF7A1C" stroke-width="1.4"/>
<line x1="843.27" y1="257.9" x2="843.27" y2="264.9" stroke="#EF7A1C" stroke-width="1.4"/>
<line x1="851.17" y1="257.9" x2="851.17" y2="264.9" stroke="#EF7A1C" stroke-width="1.4"/>
<line x1="859.07" y1="257.9" x2="859.07" y2="264.9" stroke="#EF7A1C" stroke-width="1.4"/>
<line x1="866.97" y1="257.9" x2="866.97" y2="264.9" stroke="#EF7A1C" stroke-width="1.4"/>
<line x1="874.88" y1="257.9" x2="874.88" y2="264.9" stroke="#EF7A1C" stroke-width="1.4"/>
<line x1="882.78" y1="257.9" x2="882.78" y2="264.9" stroke="#EF7A1C" stroke-width="1.4"/>
<line x1="890.68" y1="257.9" x2="890.68" y2="264.9" stroke="#EF7A1C" stroke-width="1.4"/>
<line x1="898.58" y1="257.9" x2="898.58" y2="264.9" stroke="#EF7A1C" stroke-width="1.4"/>
<line x1="906.48" y1="257.9" x2="906.48" y2="264.9" stroke="#EF7A1C" stroke-width="1.4"/>
<line x1="914.39" y1="257.9" x2="914.39" y2="264.9" stroke="#EF7A1C" stroke-width="1.4"/>
<line x1="922.29" y1="257.9" x2="922.29" y2="264.9" stroke="#EF7A1C" stroke-width="1.4"/>
<line x1="930.19" y1="257.9" x2="930.19" y2="264.9" stroke="#EF7A1C" stroke-width="1.4"/>
<line x1="938.09" y1="257.9" x2="938.09" y2="264.9" stroke="#EF7A1C" stroke-width="1.4"/>
<line x1="945.99" y1="257.9" x2="945.99" y2="264.9" stroke="#EF7A1C" stroke-width="1.4"/>
<line x1="953.9" y1="257.9" x2="953.9" y2="264.9" stroke="#EF7A1C" stroke-width="1.4"/>
<line x1="961.8" y1="257.9" x2="961.8" y2="264.9" stroke="#EF7A1C" stroke-width="1.4"/>
<line x1="768.65" y1="113.2" x2="775.65" y2="113.2" stroke="#EF7A1C" stroke-width="1.4"/>
<line x1="768.65" y1="121" x2="775.65" y2="121" stroke="#EF7A1C" stroke-width="1.4"/>
<line x1="768.65" y1="128.8" x2="775.65" y2="128.8" stroke="#EF7A1C" stroke-width="1.4"/>
<line x1="768.65" y1="136.6" x2="775.65" y2="136.6" stroke="#EF7A1C" stroke-width="1.4"/>
<line x1="768.65" y1="144.4" x2="775.65" y2="144.4" stroke="#EF7A1C" stroke-width="1.4"/>
<line x1="768.65" y1="152.2" x2="775.65" y2="152.2" stroke="#EF7A1C" stroke-width="1.4"/>
<line x1="768.65" y1="160" x2="775.65" y2="160" stroke="#EF7A1C" stroke-width="1.4"/>
<line x1="768.65" y1="167.8" x2="775.65" y2="167.8" stroke="#EF7A1C" stroke-width="1.4"/>
<line x1="768.65" y1="175.6" x2="775.65" y2="175.6" stroke="#EF7A1C" stroke-width="1.4"/>
<line x1="768.65" y1="183.4" x2="775.65" y2="183.4" stroke="#EF7A1C" stroke-width="1.4"/>
<line x1="768.65" y1="191.2" x2="775.65" y2="191.2" stroke="#EF7A1C" stroke-width="1.4"/>
<line x1="768.65" y1="199" x2="775.65" y2="199" stroke="#EF7A1C" stroke-width="1.4"/>
<line x1="768.65" y1="206.8" x2="775.65" y2="206.8" stroke="#EF7A1C" stroke-width="1.4"/>
<line x1="768.65" y1="214.6" x2="775.65" y2="214.6" stroke="#EF7A1C" stroke-width="1.4"/>
<line x1="768.65" y1="222.4" x2="775.65" y2="222.4" stroke="#EF7A1C" stroke-width="1.4"/>
<line x1="768.65" y1="230.2" x2="775.65" y2="230.2" stroke="#EF7A1C" stroke-width="1.4"/>
<line x1="768.65" y1="238" x2="775.65" y2="238" stroke="#EF7A1C" stroke-width="1.4"/>
<line x1="768.65" y1="245.8" x2="775.65" y2="245.8" stroke="#EF7A1C" stroke-width="1.4"/>
<line x1="768.65" y1="253.6" x2="775.65" y2="253.6" stroke="#EF7A1C" stroke-width="1.4"/>
<line x1="768.65" y1="261.4" x2="775.65" y2="261.4" stroke="#EF7A1C" stroke-width="1.4"/>
<line x1="768.65" y1="269.2" x2="775.65" y2="269.2" stroke="#EF7A1C" stroke-width="1.4"/>
<line x1="768.65" y1="277" x2="775.65" y2="277" stroke="#EF7A1C" stroke-width="1.4"/>
<line x1="768.65" y1="284.8" x2="775.65" y2="284.8" stroke="#EF7A1C" stroke-width="1.4"/>
<line x1="768.65" y1="292.6" x2="775.65" y2="292.6" stroke="#EF7A1C" stroke-width="1.4"/>
<line x1="768.65" y1="300.4" x2="775.65" y2="300.4" stroke="#EF7A1C" stroke-width="1.4"/>
<line x1="768.65" y1="308.2" x2="775.65" y2="308.2" stroke="#EF7A1C" stroke-width="1.4"/>
<line x1="768.65" y1="316" x2="775.65" y2="316" stroke="#EF7A1C" stroke-width="1.4"/>
<line x1="768.65" y1="323.8" x2="775.65" y2="323.8" stroke="#EF7A1C" stroke-width="1.4"/>
<line x1="768.65" y1="331.6" x2="775.65" y2="331.6" stroke="#EF7A1C" stroke-width="1.4"/>
<line x1="768.65" y1="339.4" x2="775.65" y2="339.4" stroke="#EF7A1C" stroke-width="1.4"/>
<line x1="768.65" y1="347.2" x2="775.65" y2="347.2" stroke="#EF7A1C" stroke-width="1.4"/>
<line x1="768.65" y1="355" x2="775.65" y2="355" stroke="#EF7A1C" stroke-width="1.4"/>
<line x1="768.65" y1="362.8" x2="775.65" y2="362.8" stroke="#EF7A1C" stroke-width="1.4"/>
<line x1="768.65" y1="370.6" x2="775.65" y2="370.6" stroke="#EF7A1C" stroke-width="1.4"/>
<line x1="768.65" y1="378.4" x2="775.65" y2="378.4" stroke="#EF7A1C" stroke-width="1.4"/>
<line x1="768.65" y1="386.2" x2="775.65" y2="386.2" stroke="#EF7A1C" stroke-width="1.4"/>
<line x1="768.65" y1="394" x2="775.65" y2="394" stroke="#EF7A1C" stroke-width="1.4"/>
<line x1="768.65" y1="401.8" x2="775.65" y2="401.8" stroke="#EF7A1C" stroke-width="1.4"/>
<line x1="768.65" y1="409.6" x2="775.65" y2="409.6" stroke="#EF7A1C" stroke-width="1.4"/>
<rect x="574.6" y="105.4" width="395.1" height="312" stroke="#EF7A1C" stroke-width="2.2" fill="none"/>
<line x1="574.6" y1="120.6" x2="969.7" y2="120.6" stroke="#EF7A1C" stroke-width="1.6"/>
<line x1="574.6" y1="175.4" x2="969.7" y2="175.4" stroke="#EF7A1C" stroke-width="1.5" stroke-dasharray="4,4"/>
<path d="M576,173.5 L660,172.6 L688.5,172.1 Q692.8,172.1 692.8,168 V120.5 H969" stroke="#6488C8" stroke-width="2.3" fill="none"/>
<path d="M576,252 H685.5 C688,252 689.5,249 690.5,245 L692.3,226 L693,222.8 L694.9,234 L696.5,232.5 L698.6,221 L701.3,230 L704,223.5 L706.1,229 L709.4,224.3 L711.5,227.5 L714.7,224 L717.4,228 L719,225.2 H969" stroke="#0AA0DF" stroke-width="2.6" fill="none" stroke-linejoin="round"/>
<path d="M576,339.4 H686.3 C688,339.4 689,337.5 690,334 L691.4,322 L692.6,306.7 L695.3,345.6 L698.3,322.4 L700,343 L702,324 L704,341 L706,326 L708,340 L710,326 L711.6,339 L713.6,324 L716,338 L717.6,335.8 H969" stroke="#973893" stroke-width="2" fill="none" stroke-linejoin="round"/>
<path d="M695.3,345.6 L698.3,322.4 L700,343 L702,324 L704,341 L706,326 L708,340 L710,326 L711.6,339 L713.6,324 L716,338" stroke="#973893" stroke-width="2.9" fill="none" stroke-linejoin="round"/>
<path d="M576,382.2 H686.3 C688,382.2 689,380.5 689.8,377.5 L691,368 L692.8,351.7 L695.5,389.3 L698.5,366 L700.5,386 L702.5,367.5 L704.5,386 L706.5,370 L708.5,384 L710.5,370 L712.5,384 L714.5,367 L717,383.5 L718.4,379.4 H969" stroke="#00A651" stroke-width="2.3" fill="none" stroke-linejoin="round"/>
<path d="M695.5,389.3 L698.5,366 L700.5,386 L702.5,367.5 L704.5,386 L706.5,370 L708.5,384 L710.5,370 L712.5,384 L714.5,367 L717,383.5" stroke="#00A651" stroke-width="3" fill="none" stroke-linejoin="round"/>
<path d="M558,177.4 H569.2 L573.3,183.5 L569.2,189.6 H558 Z" stroke="#6488C8" stroke-width="1.3" fill="none" stroke-linejoin="miter"/>
<text x="564.3" y="187.2" font-size="10.5" fill="#6488C8" text-anchor="middle">1</text>
<path d="M558,294.9 H569.2 L573.3,301 L569.2,307.1 H558 Z" stroke="#0AA0DF" stroke-width="1.3" fill="none" stroke-linejoin="miter"/>
<text x="564.3" y="304.7" font-size="10.5" fill="#0AA0DF" text-anchor="middle">2</text>
<path d="M558,333.9 H569.2 L573.3,340 L569.2,346.1 H558 Z" stroke="#973893" stroke-width="1.3" fill="none" stroke-linejoin="miter"/>
<text x="564.3" y="343.7" font-size="10.5" fill="#973893" text-anchor="middle">3</text>
<path d="M558,377.2 H569.2 L573.3,383.3 L569.2,389.4 H558 Z" stroke="#00A651" stroke-width="1.3" fill="none" stroke-linejoin="miter"/>
<text x="564.3" y="387" font-size="10.5" fill="#00A651" text-anchor="middle">4</text>
<path d="M976.2,117.2 L980.9,109.8 L985.6,117.2 Z" stroke="#6488C8" stroke-width="1.25" fill="none" stroke-linejoin="miter"/>
<line x1="975.8" y1="117.2" x2="986" y2="117.2" stroke="#6488C8" stroke-width="1.9"/>
<path d="M976.2,121 L980.9,128.4 L985.6,121 Z" stroke="#6488C8" stroke-width="1.25" fill="none" stroke-linejoin="miter"/>
<line x1="975.8" y1="121" x2="986" y2="121" stroke="#6488C8" stroke-width="1.9"/>
<text x="1007.3" y="115.7" font-size="12.5" fill="#6488C8" textLength="35.4" lengthAdjust="spacingAndGlyphs">69.0 V</text>
<text x="1007.3" y="130.8" font-size="12.5" fill="#6488C8" textLength="35.4" lengthAdjust="spacingAndGlyphs">80.0 V</text>
<text x="976.2" y="144.9" font-size="12.5" fill="#1a1a1a" textLength="41.8" lengthAdjust="spacingAndGlyphs">Pulse-5</text>
<text x="976.2" y="160.3" font-size="12.5" fill="#1a1a1a" textLength="77.8" lengthAdjust="spacingAndGlyphs">80V/120ms at</text>
<text x="976.2" y="174.3" font-size="12.5" fill="#1a1a1a" textLength="88.8" lengthAdjust="spacingAndGlyphs">Protection Input</text>
<text x="976.2" y="188.5" font-size="12.5" fill="#1a1a1a" textLength="52" lengthAdjust="spacingAndGlyphs">(50V/Div)</text>
<text x="975.7" y="228.7" font-size="12.5" fill="#1a1a1a" textLength="93.2" lengthAdjust="spacingAndGlyphs">Protector Outout</text>
<text x="975.7" y="243.2" font-size="12.5" fill="#1a1a1a" textLength="78.9" lengthAdjust="spacingAndGlyphs">Clamps rt 20V</text>
<text x="975.7" y="259.3" font-size="12.5" fill="#1a1a1a" textLength="51.6" lengthAdjust="spacingAndGlyphs">(50V/Div)</text>
<text x="977.6" y="339.2" font-size="12.5" fill="#1a1a1a" textLength="90.2" lengthAdjust="spacingAndGlyphs">Converter Out-1</text>
<text x="977.6" y="353.5" font-size="12.5" fill="#1a1a1a" textLength="70.4" lengthAdjust="spacingAndGlyphs">(100mV/Div)</text>
<text x="977.2" y="377.9" font-size="12.5" fill="#1a1a1a" textLength="90.9" lengthAdjust="spacingAndGlyphs">Converter Oul-2</text>
<text x="977.2" y="393.3" font-size="12.5" fill="#1a1a1a" textLength="70.4" lengthAdjust="spacingAndGlyphs">(100mV/Div)</text>
<rect x="567.2" y="420.8" width="29" height="14.7" stroke="#6488C8" stroke-width="1.5" fill="none"/>
<text x="571.5" y="431.9" font-size="12" fill="#6488C8" textLength="21.6" lengthAdjust="spacingAndGlyphs">Ch1</text>
<rect x="599.5" y="420.9" width="75.4" height="31.7" stroke="#1a1a1a" stroke-width="1.8" fill="none"/>
<line x1="599.5" y1="436.6" x2="674.9" y2="436.6" stroke="#1a1a1a" stroke-width="1.8"/>
<text x="615.2" y="431.9" font-size="12" fill="#6488C8" textLength="36.3" lengthAdjust="spacingAndGlyphs">50.0 V</text>
<text x="571" y="448.7" font-size="12" fill="#923581" textLength="22.3" lengthAdjust="spacingAndGlyphs">Ch3</text>
<text x="613.9" y="448.9" font-size="12" fill="#923581" textLength="37.6" lengthAdjust="spacingAndGlyphs">100mV</text>
<text x="678.8" y="431.9" font-size="12" fill="#1393D5" textLength="23" lengthAdjust="spacingAndGlyphs">Ch2</text>
<text x="677.4" y="448.7" font-size="12" fill="#00A651" textLength="23" lengthAdjust="spacingAndGlyphs">Ch4</text>
<rect x="702.6" y="420.6" width="76.4" height="32.1" stroke="#1a1a1a" stroke-width="1.8" fill="none"/>
<line x1="702.6" y1="436.3" x2="779" y2="436.3" stroke="#1a1a1a" stroke-width="1.8"/>
<text x="722.5" y="431.9" font-size="12" fill="#1393D5" textLength="36.5" lengthAdjust="spacingAndGlyphs">10.0 V</text>
<text x="721.2" y="448.9" font-size="12" fill="#923581" textLength="38.7" lengthAdjust="spacingAndGlyphs">100mV</text>
<text x="780.7" y="433.2" font-size="12" fill="#1a1a1a" textLength="10.6" lengthAdjust="spacingAndGlyphs">M</text>
<rect x="794.2" y="421.1" width="46.4" height="14.5" stroke="#222" stroke-width="1.3" fill="none"/>
<text x="795.8" y="432.5" font-size="12" fill="#1a1a1a" textLength="41.5" lengthAdjust="spacingAndGlyphs">1.00ms</text>
<text x="852.3" y="435.6" font-size="12.5" fill="#1a1a1a" textLength="8.8" lengthAdjust="spacingAndGlyphs" font-weight="bold">A</text>
<rect x="862.1" y="420.4" width="107.2" height="15.7" stroke="#1a1a1a" stroke-width="1.8" fill="none"/>
<text x="873.3" y="431.9" font-size="12" fill="#6488C8" textLength="22.1" lengthAdjust="spacingAndGlyphs">Ch1</text>
<text x="928.6" y="431.3" font-size="12" fill="#1a1a1a" textLength="33.2" lengthAdjust="spacingAndGlyphs">47.0V</text>
<rect x="796.4" y="449.3" width="56.5" height="15.6" stroke="#1a1a1a" stroke-width="1.7" fill="none"/>
<text x="807.4" y="462.3" font-size="12" fill="#1a1a1a" textLength="31.8" lengthAdjust="spacingAndGlyphs">30.00</text>
</svg>
</body></html>
